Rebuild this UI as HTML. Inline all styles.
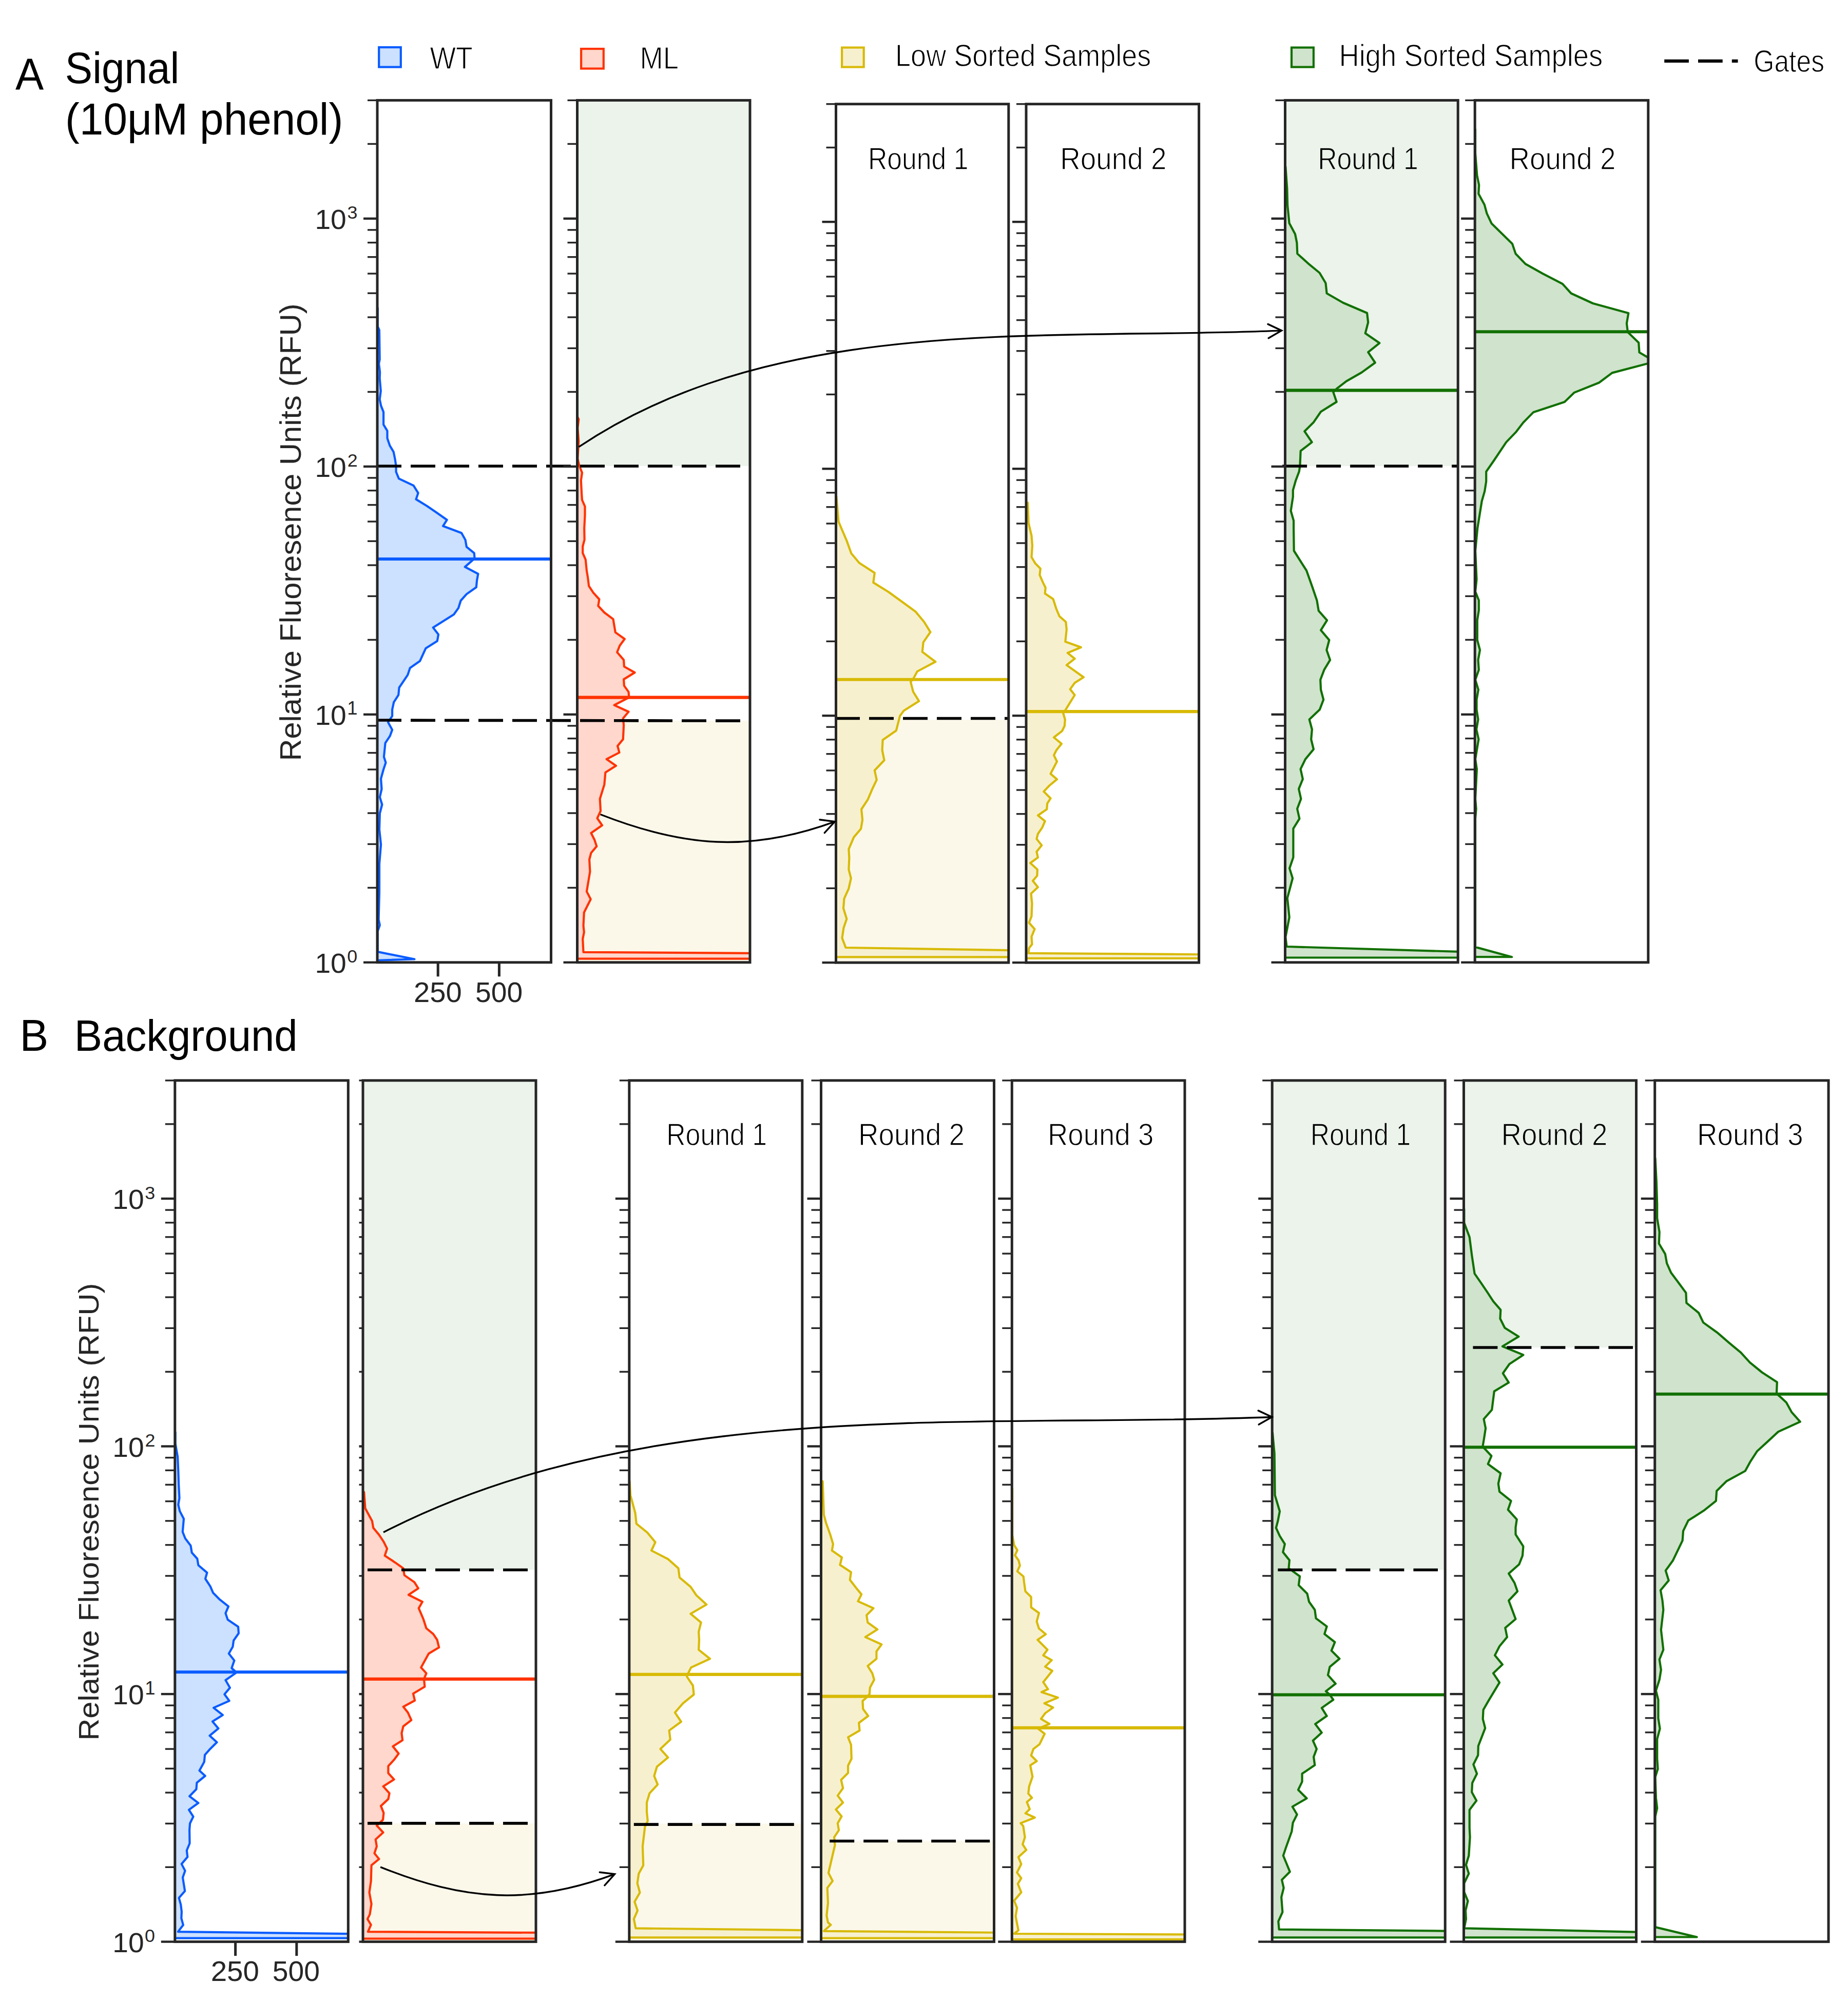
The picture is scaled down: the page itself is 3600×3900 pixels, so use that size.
<!DOCTYPE html><html><head><meta charset="utf-8"><title>Fluorescence histograms</title>
<style>html,body{margin:0;padding:0;background:#fff;}svg{display:block;}text{font-family:"Liberation Sans",sans-serif;}</style></head><body>
<svg width="3600" height="3900" viewBox="0 0 3600 3900">
<rect width="3600" height="3900" fill="#fff"/>
<defs>
<clipPath id="c_A_WT"><rect x="735" y="195.4" width="338.5" height="1679.4"/></clipPath>
<clipPath id="c_A_ML"><rect x="1124.5" y="195.4" width="336.5" height="1679.4"/></clipPath>
<clipPath id="c_A_L1"><rect x="1628.5" y="202.7" width="336.3" height="1672.5"/></clipPath>
<clipPath id="c_A_L2"><rect x="1999" y="202.7" width="336.6" height="1672.5"/></clipPath>
<clipPath id="c_A_H1"><rect x="2503.5" y="195.4" width="336.7" height="1679.4"/></clipPath>
<clipPath id="c_A_H2"><rect x="2873.2" y="195.4" width="337.6" height="1679.4"/></clipPath>
<clipPath id="c_B_WT"><rect x="340.8" y="2104.8" width="337.5" height="1677.8"/></clipPath>
<clipPath id="c_B_ML"><rect x="707" y="2104.8" width="337" height="1677.8"/></clipPath>
<clipPath id="c_B_L1"><rect x="1225.8" y="2104.8" width="337" height="1677.8"/></clipPath>
<clipPath id="c_B_L2"><rect x="1599.5" y="2104.8" width="337" height="1677.8"/></clipPath>
<clipPath id="c_B_L3"><rect x="1971.3" y="2104.8" width="336.7" height="1677.8"/></clipPath>
<clipPath id="c_B_H1"><rect x="2478.2" y="2104.8" width="337" height="1677.8"/></clipPath>
<clipPath id="c_B_H2"><rect x="2851.5" y="2104.8" width="336" height="1677.8"/></clipPath>
<clipPath id="c_B_H3"><rect x="3223.7" y="2104.8" width="338.3" height="1677.8"/></clipPath>
</defs>
<g clip-path="url(#c_A_WT)">
<polygon points="735,600 735.8,600 735.8,636 738.9,642.8 739.7,700.2 738.1,708.4 740.1,724.8 739.7,737 741.8,761.6 739.7,778 742.2,790.3 747.1,802.6 747.1,827.2 754.5,839.4 754.5,853.8 759.4,868.1 766.7,880.4 769.6,894.7 771.6,907.8 771.6,919.3 777,932.4 805.6,945.9 814.6,960.3 810.5,972.6 831.8,985.7 851.5,999.2 870.7,1012.7 863,1024.8 899,1038.3 906.6,1051.8 908.9,1065.3 923.7,1077.4 924.6,1087.8 905.7,1104.4 931.4,1117.9 929.1,1130.5 927.8,1144 908.9,1157.4 897.6,1170 893.1,1184.4 884.1,1197 843.7,1222.6 854,1236.1 851.8,1248.7 829.3,1263.1 818,1287.8 798.7,1301.3 794.2,1314.8 777.6,1339.5 776.2,1353.9 767.2,1367.8 764.1,1382.2 764.1,1394.8 756,1406.9 764.1,1421.8 759.6,1433.9 750.6,1447.4 747.9,1474.4 751.5,1485.6 747,1499.1 742.1,1517 743.5,1537.2 739.9,1552.9 744.4,1567.3 739.9,1584.4 739,1615.9 742.1,1645.1 739,1683.3 739,1737.3 737.6,1791.2 739.9,1802.4 735.8,1813.7 735.8,1854.1 807.4,1868.5 735.8,1870.8 735,1870.8" fill="#CCE0FF"/>
<polyline points="735.8,600 735.8,636 738.9,642.8 739.7,700.2 738.1,708.4 740.1,724.8 739.7,737 741.8,761.6 739.7,778 742.2,790.3 747.1,802.6 747.1,827.2 754.5,839.4 754.5,853.8 759.4,868.1 766.7,880.4 769.6,894.7 771.6,907.8 771.6,919.3 777,932.4 805.6,945.9 814.6,960.3 810.5,972.6 831.8,985.7 851.5,999.2 870.7,1012.7 863,1024.8 899,1038.3 906.6,1051.8 908.9,1065.3 923.7,1077.4 924.6,1087.8 905.7,1104.4 931.4,1117.9 929.1,1130.5 927.8,1144 908.9,1157.4 897.6,1170 893.1,1184.4 884.1,1197 843.7,1222.6 854,1236.1 851.8,1248.7 829.3,1263.1 818,1287.8 798.7,1301.3 794.2,1314.8 777.6,1339.5 776.2,1353.9 767.2,1367.8 764.1,1382.2 764.1,1394.8 756,1406.9 764.1,1421.8 759.6,1433.9 750.6,1447.4 747.9,1474.4 751.5,1485.6 747,1499.1 742.1,1517 743.5,1537.2 739.9,1552.9 744.4,1567.3 739.9,1584.4 739,1615.9 742.1,1645.1 739,1683.3 739,1737.3 737.6,1791.2 739.9,1802.4 735.8,1813.7 735.8,1854.1 807.4,1868.5 735.8,1870.8" fill="none" stroke="#0A5CFF" stroke-width="4.2" stroke-linejoin="round" stroke-linecap="round"/>
<line x1="735" y1="1089" x2="1073.5" y2="1089" stroke="#0A5CFF" stroke-width="6.1"/>
</g>
<g clip-path="url(#c_A_ML)">
<rect x="1124.5" y="195.4" width="336.5" height="712.4" fill="#EBF3EB"/>
<rect x="1124.5" y="1404" width="336.5" height="470.8" fill="#FBF8EA"/>
<polygon points="1124.5,812.6 1125.3,812.6 1127.3,816.9 1125.3,833.8 1127.3,859.3 1125.3,893.3 1128.1,906 1134,920.9 1131.8,935.7 1133.1,961.2 1134,974 1139.5,986.7 1139.5,1003.7 1138.2,1029.2 1138.6,1051.5 1135.2,1064.4 1135.2,1077.3 1140.8,1090.1 1142.9,1111.6 1145.1,1124.5 1147.2,1141.7 1155.8,1154.6 1167.4,1167.5 1165.3,1180.3 1177.3,1193.2 1194.5,1206.1 1198.8,1231.9 1216.8,1244.8 1207.3,1257.7 1202.2,1270.6 1215.1,1285.6 1215.9,1298.5 1236.5,1310.1 1215.1,1323.4 1215.9,1335.9 1224.5,1347.9 1225.4,1358.6 1196.6,1373.7 1224.5,1386.5 1213.8,1399.4 1215.1,1412.3 1213.8,1440.2 1203.1,1453.1 1206.5,1466 1181.6,1478.9 1200,1491.8 1179.4,1504.7 1177.3,1528.3 1168.7,1556.2 1170,1579.9 1163.5,1594 1173,1607.8 1151.5,1622.8 1158,1635.7 1162.3,1648.6 1151.5,1661.5 1148.1,1674.4 1149.4,1698 1142.9,1736.6 1150.7,1751.7 1137.8,1777.5 1136.5,1803.2 1137.8,1816.1 1135.2,1829 1136.5,1854.8 1529.4,1857.4 1529.4,1867.7 1125.3,1867.7 1124.5,1867.7" fill="#FFD7CD"/>
<polyline points="1125.3,812.6 1127.3,816.9 1125.3,833.8 1127.3,859.3 1125.3,893.3 1128.1,906 1134,920.9 1131.8,935.7 1133.1,961.2 1134,974 1139.5,986.7 1139.5,1003.7 1138.2,1029.2 1138.6,1051.5 1135.2,1064.4 1135.2,1077.3 1140.8,1090.1 1142.9,1111.6 1145.1,1124.5 1147.2,1141.7 1155.8,1154.6 1167.4,1167.5 1165.3,1180.3 1177.3,1193.2 1194.5,1206.1 1198.8,1231.9 1216.8,1244.8 1207.3,1257.7 1202.2,1270.6 1215.1,1285.6 1215.9,1298.5 1236.5,1310.1 1215.1,1323.4 1215.9,1335.9 1224.5,1347.9 1225.4,1358.6 1196.6,1373.7 1224.5,1386.5 1213.8,1399.4 1215.1,1412.3 1213.8,1440.2 1203.1,1453.1 1206.5,1466 1181.6,1478.9 1200,1491.8 1179.4,1504.7 1177.3,1528.3 1168.7,1556.2 1170,1579.9 1163.5,1594 1173,1607.8 1151.5,1622.8 1158,1635.7 1162.3,1648.6 1151.5,1661.5 1148.1,1674.4 1149.4,1698 1142.9,1736.6 1150.7,1751.7 1137.8,1777.5 1136.5,1803.2 1137.8,1816.1 1135.2,1829 1136.5,1854.8 1529.4,1857.4 1529.4,1867.7 1125.3,1867.7" fill="none" stroke="#FF3300" stroke-width="4.2" stroke-linejoin="round" stroke-linecap="round"/>
<line x1="1124.5" y1="1358.6" x2="1461" y2="1358.6" stroke="#FF3300" stroke-width="6.1"/>
</g>
<g clip-path="url(#c_A_L1)">
<rect x="1628.5" y="1402" width="336.3" height="473.2" fill="#FBF8EA"/>
<polygon points="1628.5,966.8 1629.3,966.8 1633.6,1016.2 1642,1036 1649.4,1053.3 1658.3,1078 1674.1,1096.8 1703.8,1116.1 1701.3,1134.9 1731,1153.2 1758.2,1173 1783.9,1191.8 1800.2,1211.5 1812.5,1231.3 1798.7,1251.1 1796.7,1269.9 1822.4,1289.2 1786.8,1308 1778.9,1322.8 1774,1328.2 1778.9,1347.5 1790.3,1365.8 1760.6,1384.6 1753.2,1394.5 1745.8,1423.2 1719.6,1441.5 1718.6,1461.3 1722.6,1481 1703.8,1500.8 1707.8,1519.1 1698.9,1537.9 1690.5,1557.7 1678.1,1576.5 1680.1,1597.3 1677.1,1614.6 1663.3,1630.9 1653.4,1654.1 1654.4,1671.4 1653.4,1693.7 1657.8,1711 1653.4,1730.8 1644.5,1750.5 1643,1769.3 1649.4,1790.1 1643.5,1807.4 1640.5,1827.2 1647.5,1846 2044.9,1852.4 2044.9,1864.3 1629.3,1864.3 1628.5,1864.3" fill="#F7F0CF"/>
<polyline points="1629.3,966.8 1633.6,1016.2 1642,1036 1649.4,1053.3 1658.3,1078 1674.1,1096.8 1703.8,1116.1 1701.3,1134.9 1731,1153.2 1758.2,1173 1783.9,1191.8 1800.2,1211.5 1812.5,1231.3 1798.7,1251.1 1796.7,1269.9 1822.4,1289.2 1786.8,1308 1778.9,1322.8 1774,1328.2 1778.9,1347.5 1790.3,1365.8 1760.6,1384.6 1753.2,1394.5 1745.8,1423.2 1719.6,1441.5 1718.6,1461.3 1722.6,1481 1703.8,1500.8 1707.8,1519.1 1698.9,1537.9 1690.5,1557.7 1678.1,1576.5 1680.1,1597.3 1677.1,1614.6 1663.3,1630.9 1653.4,1654.1 1654.4,1671.4 1653.4,1693.7 1657.8,1711 1653.4,1730.8 1644.5,1750.5 1643,1769.3 1649.4,1790.1 1643.5,1807.4 1640.5,1827.2 1647.5,1846 2044.9,1852.4 2044.9,1864.3 1629.3,1864.3" fill="none" stroke="#D8BA06" stroke-width="4.2" stroke-linejoin="round" stroke-linecap="round"/>
<line x1="1628.5" y1="1323.8" x2="1964.8" y2="1323.8" stroke="#D8BA06" stroke-width="6.1"/>
</g>
<g clip-path="url(#c_A_L2)">
<polygon points="1999,979.1 2002.1,979.1 2003.6,1018.7 2009.5,1043.4 2011,1063.2 2009.5,1085.4 2017,1097.8 2026.8,1107.7 2025.4,1120.1 2031.8,1134.9 2036.7,1144.8 2035.7,1156.2 2051.6,1167 2058,1186.8 2063.9,1200.7 2076.3,1211.5 2077.8,1226.4 2075.3,1250.1 2105.9,1261 2079.7,1271.9 2093.6,1283.2 2077.8,1295.6 2110.9,1319.3 2093.6,1330.2 2084.7,1342.6 2093.6,1354 2083.7,1369.8 2073.8,1386.1 2071.3,1389.6 2074.8,1401.9 2073.8,1414.3 2068.9,1424.2 2053,1436.5 2067.9,1448.9 2058,1461.3 2053,1471.2 2059,1483.5 2046.6,1507.3 2059,1518.1 2044.1,1530.5 2033.3,1541.9 2046.6,1555.2 2040.2,1565.1 2039.2,1576.5 2021.9,1588.4 2035.7,1599.7 2030.3,1612.1 2021.9,1624.5 2019.4,1634.3 2029.3,1646.7 2019.4,1659.1 2021.9,1670.4 2007.1,1681.3 2020.9,1693.7 2020.4,1706 2012,1715.9 2021.9,1728.3 2008.6,1740.7 2010.5,1760.4 2009.5,1785.2 2004.6,1797.5 2015.5,1809.9 2009.5,1824.7 2010.5,1839.6 2004.6,1847 2003.6,1856.9 2414.9,1859.8 2414.9,1866.8 1999.8,1866.8 1999,1866.8" fill="#F7F0CF"/>
<polyline points="2002.1,979.1 2003.6,1018.7 2009.5,1043.4 2011,1063.2 2009.5,1085.4 2017,1097.8 2026.8,1107.7 2025.4,1120.1 2031.8,1134.9 2036.7,1144.8 2035.7,1156.2 2051.6,1167 2058,1186.8 2063.9,1200.7 2076.3,1211.5 2077.8,1226.4 2075.3,1250.1 2105.9,1261 2079.7,1271.9 2093.6,1283.2 2077.8,1295.6 2110.9,1319.3 2093.6,1330.2 2084.7,1342.6 2093.6,1354 2083.7,1369.8 2073.8,1386.1 2071.3,1389.6 2074.8,1401.9 2073.8,1414.3 2068.9,1424.2 2053,1436.5 2067.9,1448.9 2058,1461.3 2053,1471.2 2059,1483.5 2046.6,1507.3 2059,1518.1 2044.1,1530.5 2033.3,1541.9 2046.6,1555.2 2040.2,1565.1 2039.2,1576.5 2021.9,1588.4 2035.7,1599.7 2030.3,1612.1 2021.9,1624.5 2019.4,1634.3 2029.3,1646.7 2019.4,1659.1 2021.9,1670.4 2007.1,1681.3 2020.9,1693.7 2020.4,1706 2012,1715.9 2021.9,1728.3 2008.6,1740.7 2010.5,1760.4 2009.5,1785.2 2004.6,1797.5 2015.5,1809.9 2009.5,1824.7 2010.5,1839.6 2004.6,1847 2003.6,1856.9 2414.9,1859.8 2414.9,1866.8 1999.8,1866.8" fill="none" stroke="#D8BA06" stroke-width="4.2" stroke-linejoin="round" stroke-linecap="round"/>
<line x1="1999" y1="1386.1" x2="2335.6" y2="1386.1" stroke="#D8BA06" stroke-width="6.1"/>
</g>
<g clip-path="url(#c_A_H1)">
<rect x="2503.5" y="195.4" width="336.7" height="712.6" fill="#EBF3EB"/>
<polygon points="2503.5,324.4 2504.3,324.4 2507.3,366.8 2508.2,400.8 2511.6,434.7 2523,456 2526.4,473 2527.3,494.2 2548.5,513.3 2570.6,531.5 2582.5,551.5 2584.6,571.5 2616.4,589.7 2663.1,609.7 2665.2,627.9 2659.7,649.2 2687.3,668.3 2665.2,686.1 2678.8,706.5 2652.5,725.6 2622.8,742.6 2603.7,757.4 2597.3,763.8 2603.7,782.9 2573.1,802 2559.1,822.4 2541.3,840.2 2555.7,861.4 2533.7,878.4 2532.4,908.1 2530.7,918.8 2524.3,935.7 2518.8,954.9 2518.8,967.6 2514.6,995.2 2520.1,1014.3 2520.1,1029.2 2520.7,1073 2545.2,1111.6 2555.9,1141.7 2565.4,1169.6 2568.8,1189.8 2585.1,1208.3 2573.1,1227.6 2589.4,1246.9 2584.3,1266.3 2591.1,1285.6 2579.5,1304.9 2572.2,1324.3 2573.1,1343.6 2578.2,1362.9 2570.9,1382.2 2550.7,1401.6 2555.9,1420.9 2554.2,1440.2 2558.9,1459.6 2543,1478.9 2533.6,1498.2 2537.9,1517.6 2530.1,1536.9 2534.4,1556.2 2527.1,1575.6 2531.4,1594.9 2519.4,1614.2 2519.4,1642.1 2519.4,1670.1 2512.1,1691.5 2518.1,1710.9 2513,1730.2 2507.8,1749.5 2511.7,1786.9 2504.3,1825.6 2506.5,1844 2899.5,1855.6 2899.5,1865.5 2504.3,1865.5 2503.5,1865.5" fill="#D0E3CD"/>
<polyline points="2504.3,324.4 2507.3,366.8 2508.2,400.8 2511.6,434.7 2523,456 2526.4,473 2527.3,494.2 2548.5,513.3 2570.6,531.5 2582.5,551.5 2584.6,571.5 2616.4,589.7 2663.1,609.7 2665.2,627.9 2659.7,649.2 2687.3,668.3 2665.2,686.1 2678.8,706.5 2652.5,725.6 2622.8,742.6 2603.7,757.4 2597.3,763.8 2603.7,782.9 2573.1,802 2559.1,822.4 2541.3,840.2 2555.7,861.4 2533.7,878.4 2532.4,908.1 2530.7,918.8 2524.3,935.7 2518.8,954.9 2518.8,967.6 2514.6,995.2 2520.1,1014.3 2520.1,1029.2 2520.7,1073 2545.2,1111.6 2555.9,1141.7 2565.4,1169.6 2568.8,1189.8 2585.1,1208.3 2573.1,1227.6 2589.4,1246.9 2584.3,1266.3 2591.1,1285.6 2579.5,1304.9 2572.2,1324.3 2573.1,1343.6 2578.2,1362.9 2570.9,1382.2 2550.7,1401.6 2555.9,1420.9 2554.2,1440.2 2558.9,1459.6 2543,1478.9 2533.6,1498.2 2537.9,1517.6 2530.1,1536.9 2534.4,1556.2 2527.1,1575.6 2531.4,1594.9 2519.4,1614.2 2519.4,1642.1 2519.4,1670.1 2512.1,1691.5 2518.1,1710.9 2513,1730.2 2507.8,1749.5 2511.7,1786.9 2504.3,1825.6 2506.5,1844 2899.5,1855.6 2899.5,1865.5 2504.3,1865.5" fill="none" stroke="#117000" stroke-width="4.2" stroke-linejoin="round" stroke-linecap="round"/>
<line x1="2503.5" y1="760.4" x2="2840.2" y2="760.4" stroke="#117000" stroke-width="6.1"/>
</g>
<g clip-path="url(#c_A_H2)">
<polygon points="2873.2,252.2 2874,252.2 2874,298.9 2877.3,341.3 2881.2,360.4 2880.3,377.4 2891.8,398.7 2896.4,415.6 2905.8,435.6 2946.1,475.1 2952.5,494.2 2971.6,514.1 3005.5,533.2 3043.7,552.8 3060.7,571.5 3103.1,591 3172.3,610.1 3168.9,630 3171,647 3192.2,667.4 3193.5,686.5 3224.1,704.4 3140.5,726.4 3115,745.5 3067,764.6 3047.9,782.9 2987.3,802.9 2967.3,823.2 2953.7,841.1 2934.2,861.4 2910,897.5 2895.2,918.8 2895.2,937.9 2892.2,957 2886.7,976.1 2881.6,1007.9 2878.2,1029.2 2874,1073 2876.5,1128.8 2874,1152.4 2880.8,1169.6 2880.8,1188.9 2877.8,1208.3 2877.8,1246.9 2883,1266.3 2879.5,1285.6 2880.8,1304.9 2874,1324.3 2879.9,1343.6 2876.5,1362.9 2876.5,1382.2 2879.5,1401.6 2876.1,1420.9 2880.4,1440.2 2874,1478.9 2876.9,1498.2 2874,1556.2 2875.6,1575.6 2874,1594.9 2874,1614.2 2874,1642.1 2874,1844.9 2945.2,1864.2 2874,1864.2 2873.2,1864.2" fill="#D0E3CD"/>
<polyline points="2874,252.2 2874,298.9 2877.3,341.3 2881.2,360.4 2880.3,377.4 2891.8,398.7 2896.4,415.6 2905.8,435.6 2946.1,475.1 2952.5,494.2 2971.6,514.1 3005.5,533.2 3043.7,552.8 3060.7,571.5 3103.1,591 3172.3,610.1 3168.9,630 3171,647 3192.2,667.4 3193.5,686.5 3224.1,704.4 3140.5,726.4 3115,745.5 3067,764.6 3047.9,782.9 2987.3,802.9 2967.3,823.2 2953.7,841.1 2934.2,861.4 2910,897.5 2895.2,918.8 2895.2,937.9 2892.2,957 2886.7,976.1 2881.6,1007.9 2878.2,1029.2 2874,1073 2876.5,1128.8 2874,1152.4 2880.8,1169.6 2880.8,1188.9 2877.8,1208.3 2877.8,1246.9 2883,1266.3 2879.5,1285.6 2880.8,1304.9 2874,1324.3 2879.9,1343.6 2876.5,1362.9 2876.5,1382.2 2879.5,1401.6 2876.1,1420.9 2880.4,1440.2 2874,1478.9 2876.9,1498.2 2874,1556.2 2875.6,1575.6 2874,1594.9 2874,1614.2 2874,1642.1 2874,1844.9 2945.2,1864.2 2874,1864.2" fill="none" stroke="#117000" stroke-width="4.2" stroke-linejoin="round" stroke-linecap="round"/>
<line x1="2873.2" y1="646.2" x2="3210.8" y2="646.2" stroke="#117000" stroke-width="6.1"/>
</g>
<g clip-path="url(#c_B_WT)">
<polygon points="340.8,2790 341.6,2790 341.6,2812 346.1,2837.8 347.3,2865.4 348.2,2893 349.5,2918.4 347.3,2931.2 350.3,2943.9 358,2958.8 355.8,2984.2 360.9,2997 371.5,3011 373.7,3024.6 384.3,3036.5 386.4,3049.2 403.4,3063.6 400,3075.5 409.7,3090.4 415.2,3103.1 428,3115.9 445,3129.4 439.4,3142.6 443.7,3155.3 464,3168.9 464.9,3181.7 455.1,3195.7 453.4,3208 445.8,3221.2 456.4,3234.7 451.3,3249.6 460.7,3258.1 439.4,3273 447.9,3287.8 437.3,3300.5 446.6,3313.3 416.1,3326.9 433.9,3340.9 414,3353.6 425.4,3367.2 408.5,3381.2 422.5,3394 409.7,3406.7 399.1,3418.6 397.8,3432.2 388.5,3449.2 399.7,3459.5 383.4,3472.8 382.4,3485.5 369.1,3499.2 386.4,3512.3 368,3525.6 376.5,3538.9 370.1,3552 369.1,3564.6 369.5,3591 363.8,3604.7 365.3,3617.4 353.7,3631.1 360.6,3644.4 356,3657.5 360.2,3683.9 348.6,3697.2 352.2,3710.3 353.9,3724 353.3,3736.7 356.9,3750 346.9,3763.1 774.3,3768.3 774.3,3775.7 341.6,3775.7 340.8,3775.7" fill="#CCE0FF"/>
<polyline points="341.6,2790 341.6,2812 346.1,2837.8 347.3,2865.4 348.2,2893 349.5,2918.4 347.3,2931.2 350.3,2943.9 358,2958.8 355.8,2984.2 360.9,2997 371.5,3011 373.7,3024.6 384.3,3036.5 386.4,3049.2 403.4,3063.6 400,3075.5 409.7,3090.4 415.2,3103.1 428,3115.9 445,3129.4 439.4,3142.6 443.7,3155.3 464,3168.9 464.9,3181.7 455.1,3195.7 453.4,3208 445.8,3221.2 456.4,3234.7 451.3,3249.6 460.7,3258.1 439.4,3273 447.9,3287.8 437.3,3300.5 446.6,3313.3 416.1,3326.9 433.9,3340.9 414,3353.6 425.4,3367.2 408.5,3381.2 422.5,3394 409.7,3406.7 399.1,3418.6 397.8,3432.2 388.5,3449.2 399.7,3459.5 383.4,3472.8 382.4,3485.5 369.1,3499.2 386.4,3512.3 368,3525.6 376.5,3538.9 370.1,3552 369.1,3564.6 369.5,3591 363.8,3604.7 365.3,3617.4 353.7,3631.1 360.6,3644.4 356,3657.5 360.2,3683.9 348.6,3697.2 352.2,3710.3 353.9,3724 353.3,3736.7 356.9,3750 346.9,3763.1 774.3,3768.3 774.3,3775.7 341.6,3775.7" fill="none" stroke="#0A5CFF" stroke-width="4.2" stroke-linejoin="round" stroke-linecap="round"/>
<line x1="340.8" y1="3257.2" x2="678.3" y2="3257.2" stroke="#0A5CFF" stroke-width="6.1"/>
</g>
<g clip-path="url(#c_B_ML)">
<rect x="707" y="2104.8" width="337" height="953.2" fill="#EBF3EB"/>
<rect x="707" y="3552" width="337" height="230.6" fill="#FBF8EA"/>
<polygon points="707,2906.7 709.2,2906.7 711.5,2938.2 724.9,2962.9 727.2,2976.4 738.4,2989.9 747.4,3003.4 754.1,3016.9 749.6,3030.4 769.9,3043.9 785.6,3055.1 787.8,3068.6 807.2,3082.1 814.8,3094.2 795.9,3106.8 822.9,3120.3 815.7,3132.9 824.7,3154 830.5,3172 844,3183.2 851.6,3194.5 855.2,3209.3 835,3221.4 820.2,3248.4 830.5,3259.6 826,3270.9 827.4,3285.7 804.9,3299.2 808.1,3312.7 785.6,3324.8 794.6,3336.1 801.3,3350.9 785.6,3363 782.4,3376.5 784.2,3390 765.4,3402.1 776.6,3416.1 767.6,3428.2 756.4,3440.4 756.4,3454.3 767.6,3466.4 746.5,3479.9 758.6,3493.4 756.4,3504.6 742,3518.1 747.4,3531.6 746,3545.1 733.9,3556.3 746.5,3569.8 731.7,3583.3 733.9,3596.8 729.4,3610.3 738.4,3621.5 723.6,3633.7 722.7,3664.2 719.5,3686.7 723.6,3709.2 720.4,3729.4 715.9,3738.4 722.7,3749.7 716.8,3763.1 1129.3,3765.4 1129.3,3776.6 707.8,3776.6 707,3776.6" fill="#FFD7CD"/>
<polyline points="709.2,2906.7 711.5,2938.2 724.9,2962.9 727.2,2976.4 738.4,2989.9 747.4,3003.4 754.1,3016.9 749.6,3030.4 769.9,3043.9 785.6,3055.1 787.8,3068.6 807.2,3082.1 814.8,3094.2 795.9,3106.8 822.9,3120.3 815.7,3132.9 824.7,3154 830.5,3172 844,3183.2 851.6,3194.5 855.2,3209.3 835,3221.4 820.2,3248.4 830.5,3259.6 826,3270.9 827.4,3285.7 804.9,3299.2 808.1,3312.7 785.6,3324.8 794.6,3336.1 801.3,3350.9 785.6,3363 782.4,3376.5 784.2,3390 765.4,3402.1 776.6,3416.1 767.6,3428.2 756.4,3440.4 756.4,3454.3 767.6,3466.4 746.5,3479.9 758.6,3493.4 756.4,3504.6 742,3518.1 747.4,3531.6 746,3545.1 733.9,3556.3 746.5,3569.8 731.7,3583.3 733.9,3596.8 729.4,3610.3 738.4,3621.5 723.6,3633.7 722.7,3664.2 719.5,3686.7 723.6,3709.2 720.4,3729.4 715.9,3738.4 722.7,3749.7 716.8,3763.1 1129.3,3765.4 1129.3,3776.6 707.8,3776.6" fill="none" stroke="#FF3300" stroke-width="4.2" stroke-linejoin="round" stroke-linecap="round"/>
<line x1="707" y1="3270.9" x2="1044" y2="3270.9" stroke="#FF3300" stroke-width="6.1"/>
</g>
<g clip-path="url(#c_B_L1)">
<rect x="1225.8" y="3552.5" width="337" height="230.1" fill="#FBF8EA"/>
<polygon points="1225.8,2885.7 1226.6,2885.7 1228.1,2912.7 1237.5,2947.2 1239.8,2968.3 1260.9,2985.4 1276.6,3004.3 1269,3020.5 1301.3,3037.1 1321.5,3055.1 1323.8,3073.1 1345.3,3091.1 1356.6,3107.7 1376.3,3125.7 1345.3,3143.7 1365.6,3160.7 1361.1,3178.7 1362,3194.5 1361.1,3213.8 1383.1,3231.3 1346.2,3248.4 1339.5,3261.9 1338.2,3266.4 1349.8,3283.5 1351.6,3301 1330.5,3318.1 1314.8,3336.1 1326.9,3354 1303.6,3371.1 1305.8,3388.7 1286.5,3407.1 1301.3,3423.7 1279.7,3441.7 1274.4,3459.7 1281.1,3476.3 1265.4,3493.4 1260,3511.4 1260,3529.4 1261.8,3547.4 1256.4,3558.6 1251.9,3596.8 1253.2,3633.7 1244.3,3649.9 1241.6,3668.7 1246.5,3686.7 1236.2,3704.7 1242,3721.8 1234.8,3738.4 1238.4,3756.4 1629.3,3760.9 1629.3,3774.4 1226.6,3774.4 1225.8,3774.4" fill="#F7F0CF"/>
<polyline points="1226.6,2885.7 1228.1,2912.7 1237.5,2947.2 1239.8,2968.3 1260.9,2985.4 1276.6,3004.3 1269,3020.5 1301.3,3037.1 1321.5,3055.1 1323.8,3073.1 1345.3,3091.1 1356.6,3107.7 1376.3,3125.7 1345.3,3143.7 1365.6,3160.7 1361.1,3178.7 1362,3194.5 1361.1,3213.8 1383.1,3231.3 1346.2,3248.4 1339.5,3261.9 1338.2,3266.4 1349.8,3283.5 1351.6,3301 1330.5,3318.1 1314.8,3336.1 1326.9,3354 1303.6,3371.1 1305.8,3388.7 1286.5,3407.1 1301.3,3423.7 1279.7,3441.7 1274.4,3459.7 1281.1,3476.3 1265.4,3493.4 1260,3511.4 1260,3529.4 1261.8,3547.4 1256.4,3558.6 1251.9,3596.8 1253.2,3633.7 1244.3,3649.9 1241.6,3668.7 1246.5,3686.7 1236.2,3704.7 1242,3721.8 1234.8,3738.4 1238.4,3756.4 1629.3,3760.9 1629.3,3774.4 1226.6,3774.4" fill="none" stroke="#D8BA06" stroke-width="4.2" stroke-linejoin="round" stroke-linecap="round"/>
<line x1="1225.8" y1="3261.9" x2="1562.8" y2="3261.9" stroke="#D8BA06" stroke-width="6.1"/>
</g>
<g clip-path="url(#c_B_L2)">
<rect x="1599.5" y="3586.5" width="337" height="196.1" fill="#FBF8EA"/>
<polygon points="1599.5,2885.7 1602.7,2885.7 1604,2926.2 1604.9,2950.9 1609.4,2967.4 1617.5,2989.9 1622.9,3007.9 1620.7,3020.5 1640,3034 1636.4,3048.4 1657.9,3062.7 1655.7,3077.6 1667.8,3093.3 1678.2,3105.9 1671.4,3119.4 1701.5,3132.9 1688.1,3146.4 1690.3,3160.7 1709.2,3174.2 1685.8,3189.1 1717.3,3203.4 1707.4,3216.9 1707.4,3231.3 1690.3,3245.3 1699.3,3259.6 1702.9,3272.2 1694.8,3287.5 1693.9,3300.1 1688.1,3306.8 1680.4,3313.6 1681.3,3329.3 1691.2,3342.8 1673.2,3356.3 1674.6,3371.1 1652.1,3384.2 1657.9,3399 1658.8,3426 1652.1,3439.5 1652.1,3453.8 1638.6,3467.3 1642.2,3483.5 1631.9,3497.9 1642.2,3511.4 1628.3,3524.9 1639.5,3538.4 1631.9,3551.8 1634.1,3565.3 1625.1,3578.8 1626.5,3594.6 1620.7,3619.3 1613.9,3648.5 1622,3664.2 1611.7,3677.7 1613,3706.9 1610.3,3731.7 1613,3745.2 1618.4,3749.7 1604.9,3761.8 2009.3,3765.4 2009.3,3775.7 1600.3,3775.7 1599.5,3775.7" fill="#F7F0CF"/>
<polyline points="1602.7,2885.7 1604,2926.2 1604.9,2950.9 1609.4,2967.4 1617.5,2989.9 1622.9,3007.9 1620.7,3020.5 1640,3034 1636.4,3048.4 1657.9,3062.7 1655.7,3077.6 1667.8,3093.3 1678.2,3105.9 1671.4,3119.4 1701.5,3132.9 1688.1,3146.4 1690.3,3160.7 1709.2,3174.2 1685.8,3189.1 1717.3,3203.4 1707.4,3216.9 1707.4,3231.3 1690.3,3245.3 1699.3,3259.6 1702.9,3272.2 1694.8,3287.5 1693.9,3300.1 1688.1,3306.8 1680.4,3313.6 1681.3,3329.3 1691.2,3342.8 1673.2,3356.3 1674.6,3371.1 1652.1,3384.2 1657.9,3399 1658.8,3426 1652.1,3439.5 1652.1,3453.8 1638.6,3467.3 1642.2,3483.5 1631.9,3497.9 1642.2,3511.4 1628.3,3524.9 1639.5,3538.4 1631.9,3551.8 1634.1,3565.3 1625.1,3578.8 1626.5,3594.6 1620.7,3619.3 1613.9,3648.5 1622,3664.2 1611.7,3677.7 1613,3706.9 1610.3,3731.7 1613,3745.2 1618.4,3749.7 1604.9,3761.8 2009.3,3765.4 2009.3,3775.7 1600.3,3775.7" fill="none" stroke="#D8BA06" stroke-width="4.2" stroke-linejoin="round" stroke-linecap="round"/>
<line x1="1599.5" y1="3304.6" x2="1936.5" y2="3304.6" stroke="#D8BA06" stroke-width="6.1"/>
</g>
<g clip-path="url(#c_B_L3)">
<polygon points="1971.3,2900 1972.1,2900 1972.1,2990 1975.6,3009.8 1981.8,3019.8 1977.2,3029.8 1984.3,3039.8 1986.8,3049.8 1981.8,3061 1993.7,3071 1995,3082.3 1997.5,3100 2008.7,3111 2008.7,3131.3 2024,3142.3 2019.6,3158.8 2024,3172.5 2037.2,3183.5 2021.3,3194.5 2040.5,3213.7 2032.3,3224.7 2048.8,3234.1 2036.1,3246.7 2049.9,3254.9 2032.3,3276.9 2041.6,3290.7 2029,3296.2 2060.8,3307.1 2034.5,3318.1 2051.5,3326.4 2036.1,3337.4 2027.9,3348.4 2044.4,3358.2 2022.4,3367.6 2035,3377.5 2025.1,3397.8 2013.1,3407.1 2008.7,3419.8 2019.6,3430.8 2007,3439 2011.4,3461 2004.8,3480.2 2003.2,3494 2010.3,3502.2 2000.4,3510.4 2005.9,3524.2 1997.7,3532.4 2015.8,3540.7 1988.3,3551.6 1993.3,3557.1 1996.6,3579.1 1992.2,3592.9 1999.3,3603.8 1983.9,3617.6 1989.4,3631.3 1981.2,3647.8 1989.4,3658.8 1982.8,3669.8 1989.4,3686.3 1975.7,3702.7 1981.2,3716.5 1978.5,3733 1983.9,3760.4 1975.7,3767 2379.4,3768.7 2379.4,3778 1972.1,3778 1971.3,3778" fill="#F7F0CF"/>
<polyline points="1972.1,2900 1972.1,2990 1975.6,3009.8 1981.8,3019.8 1977.2,3029.8 1984.3,3039.8 1986.8,3049.8 1981.8,3061 1993.7,3071 1995,3082.3 1997.5,3100 2008.7,3111 2008.7,3131.3 2024,3142.3 2019.6,3158.8 2024,3172.5 2037.2,3183.5 2021.3,3194.5 2040.5,3213.7 2032.3,3224.7 2048.8,3234.1 2036.1,3246.7 2049.9,3254.9 2032.3,3276.9 2041.6,3290.7 2029,3296.2 2060.8,3307.1 2034.5,3318.1 2051.5,3326.4 2036.1,3337.4 2027.9,3348.4 2044.4,3358.2 2022.4,3367.6 2035,3377.5 2025.1,3397.8 2013.1,3407.1 2008.7,3419.8 2019.6,3430.8 2007,3439 2011.4,3461 2004.8,3480.2 2003.2,3494 2010.3,3502.2 2000.4,3510.4 2005.9,3524.2 1997.7,3532.4 2015.8,3540.7 1988.3,3551.6 1993.3,3557.1 1996.6,3579.1 1992.2,3592.9 1999.3,3603.8 1983.9,3617.6 1989.4,3631.3 1981.2,3647.8 1989.4,3658.8 1982.8,3669.8 1989.4,3686.3 1975.7,3702.7 1981.2,3716.5 1978.5,3733 1983.9,3760.4 1975.7,3767 2379.4,3768.7 2379.4,3778 1972.1,3778" fill="none" stroke="#D8BA06" stroke-width="4.2" stroke-linejoin="round" stroke-linecap="round"/>
<line x1="1971.3" y1="3365.9" x2="2308" y2="3365.9" stroke="#D8BA06" stroke-width="6.1"/>
</g>
<g clip-path="url(#c_B_H1)">
<rect x="2478.2" y="2104.8" width="337" height="953.2" fill="#EBF3EB"/>
<polygon points="2478.2,2791.3 2479,2791.3 2482.7,2831.8 2483.6,2912.7 2493,2944.1 2489.4,2962.9 2485.8,2976.4 2493,2992.2 2502.9,3007.9 2499.3,3023.6 2511.9,3039.4 2510.5,3055.1 2532.1,3070.8 2529.9,3087.9 2546.5,3104.5 2550.1,3120.3 2561.3,3136 2563.6,3152.6 2584.7,3168.4 2580.2,3183.2 2600.4,3199 2593.7,3215.6 2609.4,3231.3 2590.5,3247.1 2586.9,3263.2 2601.8,3279.9 2582.9,3294.7 2590.5,3301.4 2597.3,3311.3 2574.8,3327.1 2584.7,3342.8 2562.2,3358.5 2574.8,3375.2 2557.7,3390.9 2564.9,3407.1 2559.1,3422.4 2561.3,3438.6 2536.6,3455.2 2536.6,3470.9 2529,3486.7 2545.6,3503.3 2517.7,3519.5 2526.7,3534.8 2518.6,3550.9 2516.4,3567.6 2505.1,3599.1 2499.8,3614.8 2512.8,3646.3 2497.1,3662 2500.7,3677.7 2496.2,3695.7 2498.4,3724.9 2490.3,3742.9 2491.7,3758.6 2889.3,3762.2 2889.3,3774.4 2479,3774.4 2478.2,3774.4" fill="#D0E3CD"/>
<polyline points="2479,2791.3 2482.7,2831.8 2483.6,2912.7 2493,2944.1 2489.4,2962.9 2485.8,2976.4 2493,2992.2 2502.9,3007.9 2499.3,3023.6 2511.9,3039.4 2510.5,3055.1 2532.1,3070.8 2529.9,3087.9 2546.5,3104.5 2550.1,3120.3 2561.3,3136 2563.6,3152.6 2584.7,3168.4 2580.2,3183.2 2600.4,3199 2593.7,3215.6 2609.4,3231.3 2590.5,3247.1 2586.9,3263.2 2601.8,3279.9 2582.9,3294.7 2590.5,3301.4 2597.3,3311.3 2574.8,3327.1 2584.7,3342.8 2562.2,3358.5 2574.8,3375.2 2557.7,3390.9 2564.9,3407.1 2559.1,3422.4 2561.3,3438.6 2536.6,3455.2 2536.6,3470.9 2529,3486.7 2545.6,3503.3 2517.7,3519.5 2526.7,3534.8 2518.6,3550.9 2516.4,3567.6 2505.1,3599.1 2499.8,3614.8 2512.8,3646.3 2497.1,3662 2500.7,3677.7 2496.2,3695.7 2498.4,3724.9 2490.3,3742.9 2491.7,3758.6 2889.3,3762.2 2889.3,3774.4 2479,3774.4" fill="none" stroke="#117000" stroke-width="4.2" stroke-linejoin="round" stroke-linecap="round"/>
<line x1="2478.2" y1="3301.5" x2="2815.2" y2="3301.5" stroke="#117000" stroke-width="6.1"/>
</g>
<g clip-path="url(#c_B_H2)">
<rect x="2851.5" y="2104.8" width="336" height="520.2" fill="#EBF3EB"/>
<polygon points="2851.5,2355.2 2852.3,2355.2 2852.3,2382.2 2862.7,2410.1 2867.2,2445.1 2872.6,2481.1 2885.1,2499.1 2897.3,2517.1 2909,2535.1 2923.3,2551.7 2922.4,2568.8 2931.4,2586.8 2958.4,2603.8 2926.9,2622.7 2967.4,2639.4 2940.4,2657.3 2927.8,2675.3 2939.1,2693.3 2910.8,2710.4 2906.3,2746.3 2890.5,2764.3 2894.1,2782.3 2891,2802.5 2888.3,2818.3 2892.8,2822.8 2905.4,2836.3 2898.6,2852 2923.3,2870 2918.8,2890.2 2921.1,2905.9 2943.6,2923.9 2937.7,2941 2954.8,2959.9 2952.5,2975.6 2952.5,2989.1 2967.4,3012.4 2966,3030.4 2959.3,3047.5 2939.1,3065.4 2950.3,3083.4 2956.1,3100 2939.1,3118 2952.5,3154 2932.3,3171.1 2935.9,3189.1 2921.1,3207 2912.1,3224.6 2926.9,3242.6 2909,3259.6 2921.1,3277.6 2900,3312.7 2889.6,3330.7 2888.7,3348.7 2893.2,3366.6 2879.8,3401.2 2879.3,3419.2 2870.3,3437.2 2877.1,3455.2 2868.1,3473.2 2867.2,3491.2 2876.2,3507.8 2862.7,3525.8 2862.7,3560.8 2863.6,3578.8 2861.3,3614.8 2855.9,3632.8 2861.3,3649.9 2852.3,3668.7 2852.3,3685.8 2859.5,3703.3 2855,3721.8 2855.9,3738.4 2852.3,3756.4 3269.3,3765.4 3269.3,3774.4 2852.3,3774.4 2851.5,3774.4" fill="#D0E3CD"/>
<polyline points="2852.3,2355.2 2852.3,2382.2 2862.7,2410.1 2867.2,2445.1 2872.6,2481.1 2885.1,2499.1 2897.3,2517.1 2909,2535.1 2923.3,2551.7 2922.4,2568.8 2931.4,2586.8 2958.4,2603.8 2926.9,2622.7 2967.4,2639.4 2940.4,2657.3 2927.8,2675.3 2939.1,2693.3 2910.8,2710.4 2906.3,2746.3 2890.5,2764.3 2894.1,2782.3 2891,2802.5 2888.3,2818.3 2892.8,2822.8 2905.4,2836.3 2898.6,2852 2923.3,2870 2918.8,2890.2 2921.1,2905.9 2943.6,2923.9 2937.7,2941 2954.8,2959.9 2952.5,2975.6 2952.5,2989.1 2967.4,3012.4 2966,3030.4 2959.3,3047.5 2939.1,3065.4 2950.3,3083.4 2956.1,3100 2939.1,3118 2952.5,3154 2932.3,3171.1 2935.9,3189.1 2921.1,3207 2912.1,3224.6 2926.9,3242.6 2909,3259.6 2921.1,3277.6 2900,3312.7 2889.6,3330.7 2888.7,3348.7 2893.2,3366.6 2879.8,3401.2 2879.3,3419.2 2870.3,3437.2 2877.1,3455.2 2868.1,3473.2 2867.2,3491.2 2876.2,3507.8 2862.7,3525.8 2862.7,3560.8 2863.6,3578.8 2861.3,3614.8 2855.9,3632.8 2861.3,3649.9 2852.3,3668.7 2852.3,3685.8 2859.5,3703.3 2855,3721.8 2855.9,3738.4 2852.3,3756.4 3269.3,3765.4 3269.3,3774.4 2852.3,3774.4" fill="none" stroke="#117000" stroke-width="4.2" stroke-linejoin="round" stroke-linecap="round"/>
<line x1="2851.5" y1="2819.2" x2="3187.5" y2="2819.2" stroke="#117000" stroke-width="6.1"/>
</g>
<g clip-path="url(#c_B_H3)">
<polygon points="3223.7,2256.3 3224.5,2256.3 3226.8,2301.3 3228.2,2346.2 3228.2,2373.2 3232.7,2400.2 3231.8,2422.7 3243.9,2442.9 3247.1,2460.9 3255.1,2478.9 3270,2499.1 3284.4,2518.4 3285.3,2538.2 3309.1,2557.5 3318.1,2576.4 3345,2595.7 3367.5,2615.1 3391.3,2634.9 3408.8,2654.2 3432.6,2673.5 3461.8,2692.4 3460.9,2714.9 3468.6,2721.6 3479.8,2732 3490.1,2750.8 3506.8,2769.7 3464.1,2789.1 3443.9,2807.9 3422.7,2827.3 3410.2,2846.6 3399.8,2865.5 3363,2885.7 3344.1,2904.6 3342.8,2923.9 3319,2942.8 3288.8,2962.1 3279,2982.4 3277.6,3001.1 3258.7,3040.3 3244.8,3059.6 3250.7,3078.9 3234.9,3097.8 3238.5,3118 3240.3,3136 3235.8,3175.1 3240.3,3213.8 3232.7,3232.7 3235.8,3252.9 3232.7,3272.2 3225.9,3293.4 3230.4,3311.3 3230.4,3347.3 3233.6,3367.5 3228.2,3387.8 3228.2,3426 3229.5,3446.2 3224.5,3461.9 3225.9,3502.4 3228.2,3522.6 3224.5,3538.4 3224.5,3754.1 3305.5,3773.5 3224.5,3773.5 3223.7,3773.5" fill="#D0E3CD"/>
<polyline points="3224.5,2256.3 3226.8,2301.3 3228.2,2346.2 3228.2,2373.2 3232.7,2400.2 3231.8,2422.7 3243.9,2442.9 3247.1,2460.9 3255.1,2478.9 3270,2499.1 3284.4,2518.4 3285.3,2538.2 3309.1,2557.5 3318.1,2576.4 3345,2595.7 3367.5,2615.1 3391.3,2634.9 3408.8,2654.2 3432.6,2673.5 3461.8,2692.4 3460.9,2714.9 3468.6,2721.6 3479.8,2732 3490.1,2750.8 3506.8,2769.7 3464.1,2789.1 3443.9,2807.9 3422.7,2827.3 3410.2,2846.6 3399.8,2865.5 3363,2885.7 3344.1,2904.6 3342.8,2923.9 3319,2942.8 3288.8,2962.1 3279,2982.4 3277.6,3001.1 3258.7,3040.3 3244.8,3059.6 3250.7,3078.9 3234.9,3097.8 3238.5,3118 3240.3,3136 3235.8,3175.1 3240.3,3213.8 3232.7,3232.7 3235.8,3252.9 3232.7,3272.2 3225.9,3293.4 3230.4,3311.3 3230.4,3347.3 3233.6,3367.5 3228.2,3387.8 3228.2,3426 3229.5,3446.2 3224.5,3461.9 3225.9,3502.4 3228.2,3522.6 3224.5,3538.4 3224.5,3754.1 3305.5,3773.5 3224.5,3773.5" fill="none" stroke="#117000" stroke-width="4.2" stroke-linejoin="round" stroke-linecap="round"/>
<line x1="3223.7" y1="2715.8" x2="3562" y2="2715.8" stroke="#117000" stroke-width="6.1"/>
</g>
<line x1="734" y1="908" x2="1462" y2="908" stroke="#000" stroke-width="5.6" stroke-dasharray="48 18"/>
<line x1="734" y1="1403" x2="1462" y2="1404.2" stroke="#000" stroke-width="5.6" stroke-dasharray="48 18"/>
<line x1="1627" y1="1399.5" x2="1964" y2="1399.5" stroke="#000" stroke-width="5.6" stroke-dasharray="48 18"/>
<line x1="2498.1" y1="908" x2="2842" y2="908" stroke="#000" stroke-width="5.6" stroke-dasharray="48 18"/>
<line x1="716" y1="3058.2" x2="1030" y2="3058.2" stroke="#000" stroke-width="5.6" stroke-dasharray="48 18"/>
<line x1="716" y1="3551.9" x2="1030" y2="3551.9" stroke="#000" stroke-width="5.6" stroke-dasharray="48 18"/>
<line x1="1234.8" y1="3554.1" x2="1550" y2="3554.1" stroke="#000" stroke-width="5.6" stroke-dasharray="48 18"/>
<line x1="1616.2" y1="3586.5" x2="1930" y2="3586.5" stroke="#000" stroke-width="5.6" stroke-dasharray="48 18"/>
<line x1="2489.4" y1="3058.2" x2="2801" y2="3058.2" stroke="#000" stroke-width="5.6" stroke-dasharray="48 18"/>
<line x1="2869.4" y1="2625" x2="3181" y2="2625" stroke="#000" stroke-width="5.6" stroke-dasharray="48 18"/>
<rect x="735" y="195.4" width="338.5" height="1679.4" fill="none" stroke="#262626" stroke-width="5" stroke-linejoin="miter"/>
<line x1="708" y1="1874.8" x2="735" y2="1874.8" stroke="#262626" stroke-width="4.4"/>
<line x1="716" y1="1729.4" x2="735" y2="1729.4" stroke="#262626" stroke-width="3.4"/>
<line x1="716" y1="1644.4" x2="735" y2="1644.4" stroke="#262626" stroke-width="3.4"/>
<line x1="716" y1="1584" x2="735" y2="1584" stroke="#262626" stroke-width="3.4"/>
<line x1="716" y1="1537.2" x2="735" y2="1537.2" stroke="#262626" stroke-width="3.4"/>
<line x1="716" y1="1499" x2="735" y2="1499" stroke="#262626" stroke-width="3.4"/>
<line x1="716" y1="1466.6" x2="735" y2="1466.6" stroke="#262626" stroke-width="3.4"/>
<line x1="716" y1="1438.6" x2="735" y2="1438.6" stroke="#262626" stroke-width="3.4"/>
<line x1="716" y1="1413.9" x2="735" y2="1413.9" stroke="#262626" stroke-width="3.4"/>
<line x1="708" y1="1391.8" x2="735" y2="1391.8" stroke="#262626" stroke-width="4.4"/>
<line x1="716" y1="1246.4" x2="735" y2="1246.4" stroke="#262626" stroke-width="3.4"/>
<line x1="716" y1="1161.4" x2="735" y2="1161.4" stroke="#262626" stroke-width="3.4"/>
<line x1="716" y1="1101" x2="735" y2="1101" stroke="#262626" stroke-width="3.4"/>
<line x1="716" y1="1054.2" x2="735" y2="1054.2" stroke="#262626" stroke-width="3.4"/>
<line x1="716" y1="1016" x2="735" y2="1016" stroke="#262626" stroke-width="3.4"/>
<line x1="716" y1="983.6" x2="735" y2="983.6" stroke="#262626" stroke-width="3.4"/>
<line x1="716" y1="955.6" x2="735" y2="955.6" stroke="#262626" stroke-width="3.4"/>
<line x1="716" y1="930.9" x2="735" y2="930.9" stroke="#262626" stroke-width="3.4"/>
<line x1="708" y1="908.8" x2="735" y2="908.8" stroke="#262626" stroke-width="4.4"/>
<line x1="716" y1="763.4" x2="735" y2="763.4" stroke="#262626" stroke-width="3.4"/>
<line x1="716" y1="678.4" x2="735" y2="678.4" stroke="#262626" stroke-width="3.4"/>
<line x1="716" y1="618" x2="735" y2="618" stroke="#262626" stroke-width="3.4"/>
<line x1="716" y1="571.2" x2="735" y2="571.2" stroke="#262626" stroke-width="3.4"/>
<line x1="716" y1="533" x2="735" y2="533" stroke="#262626" stroke-width="3.4"/>
<line x1="716" y1="500.7" x2="735" y2="500.7" stroke="#262626" stroke-width="3.4"/>
<line x1="716" y1="472.6" x2="735" y2="472.6" stroke="#262626" stroke-width="3.4"/>
<line x1="716" y1="447.9" x2="735" y2="447.9" stroke="#262626" stroke-width="3.4"/>
<line x1="708" y1="425.8" x2="735" y2="425.8" stroke="#262626" stroke-width="4.4"/>
<line x1="716" y1="280.4" x2="735" y2="280.4" stroke="#262626" stroke-width="3.4"/>
<line x1="716" y1="195.4" x2="735" y2="195.4" stroke="#262626" stroke-width="3.4"/>
<rect x="1124.5" y="195.4" width="336.5" height="1679.4" fill="none" stroke="#262626" stroke-width="5" stroke-linejoin="miter"/>
<line x1="1097.5" y1="1874.8" x2="1124.5" y2="1874.8" stroke="#262626" stroke-width="4.4"/>
<line x1="1105.5" y1="1729.4" x2="1124.5" y2="1729.4" stroke="#262626" stroke-width="3.4"/>
<line x1="1105.5" y1="1644.4" x2="1124.5" y2="1644.4" stroke="#262626" stroke-width="3.4"/>
<line x1="1105.5" y1="1584" x2="1124.5" y2="1584" stroke="#262626" stroke-width="3.4"/>
<line x1="1105.5" y1="1537.2" x2="1124.5" y2="1537.2" stroke="#262626" stroke-width="3.4"/>
<line x1="1105.5" y1="1499" x2="1124.5" y2="1499" stroke="#262626" stroke-width="3.4"/>
<line x1="1105.5" y1="1466.6" x2="1124.5" y2="1466.6" stroke="#262626" stroke-width="3.4"/>
<line x1="1105.5" y1="1438.6" x2="1124.5" y2="1438.6" stroke="#262626" stroke-width="3.4"/>
<line x1="1105.5" y1="1413.9" x2="1124.5" y2="1413.9" stroke="#262626" stroke-width="3.4"/>
<line x1="1097.5" y1="1391.8" x2="1124.5" y2="1391.8" stroke="#262626" stroke-width="4.4"/>
<line x1="1105.5" y1="1246.4" x2="1124.5" y2="1246.4" stroke="#262626" stroke-width="3.4"/>
<line x1="1105.5" y1="1161.4" x2="1124.5" y2="1161.4" stroke="#262626" stroke-width="3.4"/>
<line x1="1105.5" y1="1101" x2="1124.5" y2="1101" stroke="#262626" stroke-width="3.4"/>
<line x1="1105.5" y1="1054.2" x2="1124.5" y2="1054.2" stroke="#262626" stroke-width="3.4"/>
<line x1="1105.5" y1="1016" x2="1124.5" y2="1016" stroke="#262626" stroke-width="3.4"/>
<line x1="1105.5" y1="983.6" x2="1124.5" y2="983.6" stroke="#262626" stroke-width="3.4"/>
<line x1="1105.5" y1="955.6" x2="1124.5" y2="955.6" stroke="#262626" stroke-width="3.4"/>
<line x1="1105.5" y1="930.9" x2="1124.5" y2="930.9" stroke="#262626" stroke-width="3.4"/>
<line x1="1097.5" y1="908.8" x2="1124.5" y2="908.8" stroke="#262626" stroke-width="4.4"/>
<line x1="1105.5" y1="763.4" x2="1124.5" y2="763.4" stroke="#262626" stroke-width="3.4"/>
<line x1="1105.5" y1="678.4" x2="1124.5" y2="678.4" stroke="#262626" stroke-width="3.4"/>
<line x1="1105.5" y1="618" x2="1124.5" y2="618" stroke="#262626" stroke-width="3.4"/>
<line x1="1105.5" y1="571.2" x2="1124.5" y2="571.2" stroke="#262626" stroke-width="3.4"/>
<line x1="1105.5" y1="533" x2="1124.5" y2="533" stroke="#262626" stroke-width="3.4"/>
<line x1="1105.5" y1="500.7" x2="1124.5" y2="500.7" stroke="#262626" stroke-width="3.4"/>
<line x1="1105.5" y1="472.6" x2="1124.5" y2="472.6" stroke="#262626" stroke-width="3.4"/>
<line x1="1105.5" y1="447.9" x2="1124.5" y2="447.9" stroke="#262626" stroke-width="3.4"/>
<line x1="1097.5" y1="425.8" x2="1124.5" y2="425.8" stroke="#262626" stroke-width="4.4"/>
<line x1="1105.5" y1="280.4" x2="1124.5" y2="280.4" stroke="#262626" stroke-width="3.4"/>
<line x1="1105.5" y1="195.4" x2="1124.5" y2="195.4" stroke="#262626" stroke-width="3.4"/>
<rect x="1628.5" y="202.7" width="336.3" height="1672.5" fill="none" stroke="#262626" stroke-width="5" stroke-linejoin="miter"/>
<line x1="1601.5" y1="1875.2" x2="1628.5" y2="1875.2" stroke="#262626" stroke-width="4.4"/>
<line x1="1609.5" y1="1730.4" x2="1628.5" y2="1730.4" stroke="#262626" stroke-width="3.4"/>
<line x1="1609.5" y1="1645.7" x2="1628.5" y2="1645.7" stroke="#262626" stroke-width="3.4"/>
<line x1="1609.5" y1="1585.6" x2="1628.5" y2="1585.6" stroke="#262626" stroke-width="3.4"/>
<line x1="1609.5" y1="1539" x2="1628.5" y2="1539" stroke="#262626" stroke-width="3.4"/>
<line x1="1609.5" y1="1500.9" x2="1628.5" y2="1500.9" stroke="#262626" stroke-width="3.4"/>
<line x1="1609.5" y1="1468.7" x2="1628.5" y2="1468.7" stroke="#262626" stroke-width="3.4"/>
<line x1="1609.5" y1="1440.8" x2="1628.5" y2="1440.8" stroke="#262626" stroke-width="3.4"/>
<line x1="1609.5" y1="1416.2" x2="1628.5" y2="1416.2" stroke="#262626" stroke-width="3.4"/>
<line x1="1601.5" y1="1394.2" x2="1628.5" y2="1394.2" stroke="#262626" stroke-width="4.4"/>
<line x1="1609.5" y1="1249.4" x2="1628.5" y2="1249.4" stroke="#262626" stroke-width="3.4"/>
<line x1="1609.5" y1="1164.7" x2="1628.5" y2="1164.7" stroke="#262626" stroke-width="3.4"/>
<line x1="1609.5" y1="1104.6" x2="1628.5" y2="1104.6" stroke="#262626" stroke-width="3.4"/>
<line x1="1609.5" y1="1058" x2="1628.5" y2="1058" stroke="#262626" stroke-width="3.4"/>
<line x1="1609.5" y1="1019.9" x2="1628.5" y2="1019.9" stroke="#262626" stroke-width="3.4"/>
<line x1="1609.5" y1="987.7" x2="1628.5" y2="987.7" stroke="#262626" stroke-width="3.4"/>
<line x1="1609.5" y1="959.8" x2="1628.5" y2="959.8" stroke="#262626" stroke-width="3.4"/>
<line x1="1609.5" y1="935.2" x2="1628.5" y2="935.2" stroke="#262626" stroke-width="3.4"/>
<line x1="1601.5" y1="913.2" x2="1628.5" y2="913.2" stroke="#262626" stroke-width="4.4"/>
<line x1="1609.5" y1="768.4" x2="1628.5" y2="768.4" stroke="#262626" stroke-width="3.4"/>
<line x1="1609.5" y1="683.7" x2="1628.5" y2="683.7" stroke="#262626" stroke-width="3.4"/>
<line x1="1609.5" y1="623.6" x2="1628.5" y2="623.6" stroke="#262626" stroke-width="3.4"/>
<line x1="1609.5" y1="577" x2="1628.5" y2="577" stroke="#262626" stroke-width="3.4"/>
<line x1="1609.5" y1="538.9" x2="1628.5" y2="538.9" stroke="#262626" stroke-width="3.4"/>
<line x1="1609.5" y1="506.7" x2="1628.5" y2="506.7" stroke="#262626" stroke-width="3.4"/>
<line x1="1609.5" y1="478.8" x2="1628.5" y2="478.8" stroke="#262626" stroke-width="3.4"/>
<line x1="1609.5" y1="454.2" x2="1628.5" y2="454.2" stroke="#262626" stroke-width="3.4"/>
<line x1="1601.5" y1="432.2" x2="1628.5" y2="432.2" stroke="#262626" stroke-width="4.4"/>
<line x1="1609.5" y1="287.4" x2="1628.5" y2="287.4" stroke="#262626" stroke-width="3.4"/>
<line x1="1609.5" y1="202.7" x2="1628.5" y2="202.7" stroke="#262626" stroke-width="3.4"/>
<rect x="1999" y="202.7" width="336.6" height="1672.5" fill="none" stroke="#262626" stroke-width="5" stroke-linejoin="miter"/>
<line x1="1972" y1="1875.2" x2="1999" y2="1875.2" stroke="#262626" stroke-width="4.4"/>
<line x1="1980" y1="1730.4" x2="1999" y2="1730.4" stroke="#262626" stroke-width="3.4"/>
<line x1="1980" y1="1645.7" x2="1999" y2="1645.7" stroke="#262626" stroke-width="3.4"/>
<line x1="1980" y1="1585.6" x2="1999" y2="1585.6" stroke="#262626" stroke-width="3.4"/>
<line x1="1980" y1="1539" x2="1999" y2="1539" stroke="#262626" stroke-width="3.4"/>
<line x1="1980" y1="1500.9" x2="1999" y2="1500.9" stroke="#262626" stroke-width="3.4"/>
<line x1="1980" y1="1468.7" x2="1999" y2="1468.7" stroke="#262626" stroke-width="3.4"/>
<line x1="1980" y1="1440.8" x2="1999" y2="1440.8" stroke="#262626" stroke-width="3.4"/>
<line x1="1980" y1="1416.2" x2="1999" y2="1416.2" stroke="#262626" stroke-width="3.4"/>
<line x1="1972" y1="1394.2" x2="1999" y2="1394.2" stroke="#262626" stroke-width="4.4"/>
<line x1="1980" y1="1249.4" x2="1999" y2="1249.4" stroke="#262626" stroke-width="3.4"/>
<line x1="1980" y1="1164.7" x2="1999" y2="1164.7" stroke="#262626" stroke-width="3.4"/>
<line x1="1980" y1="1104.6" x2="1999" y2="1104.6" stroke="#262626" stroke-width="3.4"/>
<line x1="1980" y1="1058" x2="1999" y2="1058" stroke="#262626" stroke-width="3.4"/>
<line x1="1980" y1="1019.9" x2="1999" y2="1019.9" stroke="#262626" stroke-width="3.4"/>
<line x1="1980" y1="987.7" x2="1999" y2="987.7" stroke="#262626" stroke-width="3.4"/>
<line x1="1980" y1="959.8" x2="1999" y2="959.8" stroke="#262626" stroke-width="3.4"/>
<line x1="1980" y1="935.2" x2="1999" y2="935.2" stroke="#262626" stroke-width="3.4"/>
<line x1="1972" y1="913.2" x2="1999" y2="913.2" stroke="#262626" stroke-width="4.4"/>
<line x1="1980" y1="768.4" x2="1999" y2="768.4" stroke="#262626" stroke-width="3.4"/>
<line x1="1980" y1="683.7" x2="1999" y2="683.7" stroke="#262626" stroke-width="3.4"/>
<line x1="1980" y1="623.6" x2="1999" y2="623.6" stroke="#262626" stroke-width="3.4"/>
<line x1="1980" y1="577" x2="1999" y2="577" stroke="#262626" stroke-width="3.4"/>
<line x1="1980" y1="538.9" x2="1999" y2="538.9" stroke="#262626" stroke-width="3.4"/>
<line x1="1980" y1="506.7" x2="1999" y2="506.7" stroke="#262626" stroke-width="3.4"/>
<line x1="1980" y1="478.8" x2="1999" y2="478.8" stroke="#262626" stroke-width="3.4"/>
<line x1="1980" y1="454.2" x2="1999" y2="454.2" stroke="#262626" stroke-width="3.4"/>
<line x1="1972" y1="432.2" x2="1999" y2="432.2" stroke="#262626" stroke-width="4.4"/>
<line x1="1980" y1="287.4" x2="1999" y2="287.4" stroke="#262626" stroke-width="3.4"/>
<line x1="1980" y1="202.7" x2="1999" y2="202.7" stroke="#262626" stroke-width="3.4"/>
<rect x="2503.5" y="195.4" width="336.7" height="1679.4" fill="none" stroke="#262626" stroke-width="5" stroke-linejoin="miter"/>
<line x1="2476.5" y1="1874.8" x2="2503.5" y2="1874.8" stroke="#262626" stroke-width="4.4"/>
<line x1="2484.5" y1="1729.4" x2="2503.5" y2="1729.4" stroke="#262626" stroke-width="3.4"/>
<line x1="2484.5" y1="1644.4" x2="2503.5" y2="1644.4" stroke="#262626" stroke-width="3.4"/>
<line x1="2484.5" y1="1584" x2="2503.5" y2="1584" stroke="#262626" stroke-width="3.4"/>
<line x1="2484.5" y1="1537.2" x2="2503.5" y2="1537.2" stroke="#262626" stroke-width="3.4"/>
<line x1="2484.5" y1="1499" x2="2503.5" y2="1499" stroke="#262626" stroke-width="3.4"/>
<line x1="2484.5" y1="1466.6" x2="2503.5" y2="1466.6" stroke="#262626" stroke-width="3.4"/>
<line x1="2484.5" y1="1438.6" x2="2503.5" y2="1438.6" stroke="#262626" stroke-width="3.4"/>
<line x1="2484.5" y1="1413.9" x2="2503.5" y2="1413.9" stroke="#262626" stroke-width="3.4"/>
<line x1="2476.5" y1="1391.8" x2="2503.5" y2="1391.8" stroke="#262626" stroke-width="4.4"/>
<line x1="2484.5" y1="1246.4" x2="2503.5" y2="1246.4" stroke="#262626" stroke-width="3.4"/>
<line x1="2484.5" y1="1161.4" x2="2503.5" y2="1161.4" stroke="#262626" stroke-width="3.4"/>
<line x1="2484.5" y1="1101" x2="2503.5" y2="1101" stroke="#262626" stroke-width="3.4"/>
<line x1="2484.5" y1="1054.2" x2="2503.5" y2="1054.2" stroke="#262626" stroke-width="3.4"/>
<line x1="2484.5" y1="1016" x2="2503.5" y2="1016" stroke="#262626" stroke-width="3.4"/>
<line x1="2484.5" y1="983.6" x2="2503.5" y2="983.6" stroke="#262626" stroke-width="3.4"/>
<line x1="2484.5" y1="955.6" x2="2503.5" y2="955.6" stroke="#262626" stroke-width="3.4"/>
<line x1="2484.5" y1="930.9" x2="2503.5" y2="930.9" stroke="#262626" stroke-width="3.4"/>
<line x1="2476.5" y1="908.8" x2="2503.5" y2="908.8" stroke="#262626" stroke-width="4.4"/>
<line x1="2484.5" y1="763.4" x2="2503.5" y2="763.4" stroke="#262626" stroke-width="3.4"/>
<line x1="2484.5" y1="678.4" x2="2503.5" y2="678.4" stroke="#262626" stroke-width="3.4"/>
<line x1="2484.5" y1="618" x2="2503.5" y2="618" stroke="#262626" stroke-width="3.4"/>
<line x1="2484.5" y1="571.2" x2="2503.5" y2="571.2" stroke="#262626" stroke-width="3.4"/>
<line x1="2484.5" y1="533" x2="2503.5" y2="533" stroke="#262626" stroke-width="3.4"/>
<line x1="2484.5" y1="500.7" x2="2503.5" y2="500.7" stroke="#262626" stroke-width="3.4"/>
<line x1="2484.5" y1="472.6" x2="2503.5" y2="472.6" stroke="#262626" stroke-width="3.4"/>
<line x1="2484.5" y1="447.9" x2="2503.5" y2="447.9" stroke="#262626" stroke-width="3.4"/>
<line x1="2476.5" y1="425.8" x2="2503.5" y2="425.8" stroke="#262626" stroke-width="4.4"/>
<line x1="2484.5" y1="280.4" x2="2503.5" y2="280.4" stroke="#262626" stroke-width="3.4"/>
<line x1="2484.5" y1="195.4" x2="2503.5" y2="195.4" stroke="#262626" stroke-width="3.4"/>
<rect x="2873.2" y="195.4" width="337.6" height="1679.4" fill="none" stroke="#262626" stroke-width="5" stroke-linejoin="miter"/>
<line x1="2846.2" y1="1874.8" x2="2873.2" y2="1874.8" stroke="#262626" stroke-width="4.4"/>
<line x1="2854.2" y1="1729.4" x2="2873.2" y2="1729.4" stroke="#262626" stroke-width="3.4"/>
<line x1="2854.2" y1="1644.4" x2="2873.2" y2="1644.4" stroke="#262626" stroke-width="3.4"/>
<line x1="2854.2" y1="1584" x2="2873.2" y2="1584" stroke="#262626" stroke-width="3.4"/>
<line x1="2854.2" y1="1537.2" x2="2873.2" y2="1537.2" stroke="#262626" stroke-width="3.4"/>
<line x1="2854.2" y1="1499" x2="2873.2" y2="1499" stroke="#262626" stroke-width="3.4"/>
<line x1="2854.2" y1="1466.6" x2="2873.2" y2="1466.6" stroke="#262626" stroke-width="3.4"/>
<line x1="2854.2" y1="1438.6" x2="2873.2" y2="1438.6" stroke="#262626" stroke-width="3.4"/>
<line x1="2854.2" y1="1413.9" x2="2873.2" y2="1413.9" stroke="#262626" stroke-width="3.4"/>
<line x1="2846.2" y1="1391.8" x2="2873.2" y2="1391.8" stroke="#262626" stroke-width="4.4"/>
<line x1="2854.2" y1="1246.4" x2="2873.2" y2="1246.4" stroke="#262626" stroke-width="3.4"/>
<line x1="2854.2" y1="1161.4" x2="2873.2" y2="1161.4" stroke="#262626" stroke-width="3.4"/>
<line x1="2854.2" y1="1101" x2="2873.2" y2="1101" stroke="#262626" stroke-width="3.4"/>
<line x1="2854.2" y1="1054.2" x2="2873.2" y2="1054.2" stroke="#262626" stroke-width="3.4"/>
<line x1="2854.2" y1="1016" x2="2873.2" y2="1016" stroke="#262626" stroke-width="3.4"/>
<line x1="2854.2" y1="983.6" x2="2873.2" y2="983.6" stroke="#262626" stroke-width="3.4"/>
<line x1="2854.2" y1="955.6" x2="2873.2" y2="955.6" stroke="#262626" stroke-width="3.4"/>
<line x1="2854.2" y1="930.9" x2="2873.2" y2="930.9" stroke="#262626" stroke-width="3.4"/>
<line x1="2846.2" y1="908.8" x2="2873.2" y2="908.8" stroke="#262626" stroke-width="4.4"/>
<line x1="2854.2" y1="763.4" x2="2873.2" y2="763.4" stroke="#262626" stroke-width="3.4"/>
<line x1="2854.2" y1="678.4" x2="2873.2" y2="678.4" stroke="#262626" stroke-width="3.4"/>
<line x1="2854.2" y1="618" x2="2873.2" y2="618" stroke="#262626" stroke-width="3.4"/>
<line x1="2854.2" y1="571.2" x2="2873.2" y2="571.2" stroke="#262626" stroke-width="3.4"/>
<line x1="2854.2" y1="533" x2="2873.2" y2="533" stroke="#262626" stroke-width="3.4"/>
<line x1="2854.2" y1="500.7" x2="2873.2" y2="500.7" stroke="#262626" stroke-width="3.4"/>
<line x1="2854.2" y1="472.6" x2="2873.2" y2="472.6" stroke="#262626" stroke-width="3.4"/>
<line x1="2854.2" y1="447.9" x2="2873.2" y2="447.9" stroke="#262626" stroke-width="3.4"/>
<line x1="2846.2" y1="425.8" x2="2873.2" y2="425.8" stroke="#262626" stroke-width="4.4"/>
<line x1="2854.2" y1="280.4" x2="2873.2" y2="280.4" stroke="#262626" stroke-width="3.4"/>
<line x1="2854.2" y1="195.4" x2="2873.2" y2="195.4" stroke="#262626" stroke-width="3.4"/>
<rect x="340.8" y="2104.8" width="337.5" height="1677.8" fill="none" stroke="#262626" stroke-width="5" stroke-linejoin="miter"/>
<line x1="313.8" y1="3782.6" x2="340.8" y2="3782.6" stroke="#262626" stroke-width="4.4"/>
<line x1="321.8" y1="3637.3" x2="340.8" y2="3637.3" stroke="#262626" stroke-width="3.4"/>
<line x1="321.8" y1="3552.4" x2="340.8" y2="3552.4" stroke="#262626" stroke-width="3.4"/>
<line x1="321.8" y1="3492.1" x2="340.8" y2="3492.1" stroke="#262626" stroke-width="3.4"/>
<line x1="321.8" y1="3445.3" x2="340.8" y2="3445.3" stroke="#262626" stroke-width="3.4"/>
<line x1="321.8" y1="3407.1" x2="340.8" y2="3407.1" stroke="#262626" stroke-width="3.4"/>
<line x1="321.8" y1="3374.8" x2="340.8" y2="3374.8" stroke="#262626" stroke-width="3.4"/>
<line x1="321.8" y1="3346.8" x2="340.8" y2="3346.8" stroke="#262626" stroke-width="3.4"/>
<line x1="321.8" y1="3322.2" x2="340.8" y2="3322.2" stroke="#262626" stroke-width="3.4"/>
<line x1="313.8" y1="3300.1" x2="340.8" y2="3300.1" stroke="#262626" stroke-width="4.4"/>
<line x1="321.8" y1="3154.8" x2="340.8" y2="3154.8" stroke="#262626" stroke-width="3.4"/>
<line x1="321.8" y1="3069.9" x2="340.8" y2="3069.9" stroke="#262626" stroke-width="3.4"/>
<line x1="321.8" y1="3009.6" x2="340.8" y2="3009.6" stroke="#262626" stroke-width="3.4"/>
<line x1="321.8" y1="2962.8" x2="340.8" y2="2962.8" stroke="#262626" stroke-width="3.4"/>
<line x1="321.8" y1="2924.6" x2="340.8" y2="2924.6" stroke="#262626" stroke-width="3.4"/>
<line x1="321.8" y1="2892.3" x2="340.8" y2="2892.3" stroke="#262626" stroke-width="3.4"/>
<line x1="321.8" y1="2864.3" x2="340.8" y2="2864.3" stroke="#262626" stroke-width="3.4"/>
<line x1="321.8" y1="2839.6" x2="340.8" y2="2839.6" stroke="#262626" stroke-width="3.4"/>
<line x1="313.8" y1="2817.5" x2="340.8" y2="2817.5" stroke="#262626" stroke-width="4.4"/>
<line x1="321.8" y1="2672.3" x2="340.8" y2="2672.3" stroke="#262626" stroke-width="3.4"/>
<line x1="321.8" y1="2587.3" x2="340.8" y2="2587.3" stroke="#262626" stroke-width="3.4"/>
<line x1="321.8" y1="2527" x2="340.8" y2="2527" stroke="#262626" stroke-width="3.4"/>
<line x1="321.8" y1="2480.3" x2="340.8" y2="2480.3" stroke="#262626" stroke-width="3.4"/>
<line x1="321.8" y1="2442.1" x2="340.8" y2="2442.1" stroke="#262626" stroke-width="3.4"/>
<line x1="321.8" y1="2409.8" x2="340.8" y2="2409.8" stroke="#262626" stroke-width="3.4"/>
<line x1="321.8" y1="2381.8" x2="340.8" y2="2381.8" stroke="#262626" stroke-width="3.4"/>
<line x1="321.8" y1="2357.1" x2="340.8" y2="2357.1" stroke="#262626" stroke-width="3.4"/>
<line x1="313.8" y1="2335" x2="340.8" y2="2335" stroke="#262626" stroke-width="4.4"/>
<line x1="321.8" y1="2189.8" x2="340.8" y2="2189.8" stroke="#262626" stroke-width="3.4"/>
<line x1="321.8" y1="2104.8" x2="340.8" y2="2104.8" stroke="#262626" stroke-width="3.4"/>
<rect x="707" y="2104.8" width="337" height="1677.8" fill="none" stroke="#262626" stroke-width="5" stroke-linejoin="miter"/>
<line x1="699.5" y1="3782.6" x2="707" y2="3782.6" stroke="#262626" stroke-width="4.4"/>
<line x1="699.5" y1="3637.3" x2="707" y2="3637.3" stroke="#262626" stroke-width="3.4"/>
<line x1="699.5" y1="3552.4" x2="707" y2="3552.4" stroke="#262626" stroke-width="3.4"/>
<line x1="699.5" y1="3492.1" x2="707" y2="3492.1" stroke="#262626" stroke-width="3.4"/>
<line x1="699.5" y1="3445.3" x2="707" y2="3445.3" stroke="#262626" stroke-width="3.4"/>
<line x1="699.5" y1="3407.1" x2="707" y2="3407.1" stroke="#262626" stroke-width="3.4"/>
<line x1="699.5" y1="3374.8" x2="707" y2="3374.8" stroke="#262626" stroke-width="3.4"/>
<line x1="699.5" y1="3346.8" x2="707" y2="3346.8" stroke="#262626" stroke-width="3.4"/>
<line x1="699.5" y1="3322.2" x2="707" y2="3322.2" stroke="#262626" stroke-width="3.4"/>
<line x1="699.5" y1="3300.1" x2="707" y2="3300.1" stroke="#262626" stroke-width="4.4"/>
<line x1="699.5" y1="3154.8" x2="707" y2="3154.8" stroke="#262626" stroke-width="3.4"/>
<line x1="699.5" y1="3069.9" x2="707" y2="3069.9" stroke="#262626" stroke-width="3.4"/>
<line x1="699.5" y1="3009.6" x2="707" y2="3009.6" stroke="#262626" stroke-width="3.4"/>
<line x1="699.5" y1="2962.8" x2="707" y2="2962.8" stroke="#262626" stroke-width="3.4"/>
<line x1="699.5" y1="2924.6" x2="707" y2="2924.6" stroke="#262626" stroke-width="3.4"/>
<line x1="699.5" y1="2892.3" x2="707" y2="2892.3" stroke="#262626" stroke-width="3.4"/>
<line x1="699.5" y1="2864.3" x2="707" y2="2864.3" stroke="#262626" stroke-width="3.4"/>
<line x1="699.5" y1="2839.6" x2="707" y2="2839.6" stroke="#262626" stroke-width="3.4"/>
<line x1="699.5" y1="2817.5" x2="707" y2="2817.5" stroke="#262626" stroke-width="4.4"/>
<line x1="699.5" y1="2672.3" x2="707" y2="2672.3" stroke="#262626" stroke-width="3.4"/>
<line x1="699.5" y1="2587.3" x2="707" y2="2587.3" stroke="#262626" stroke-width="3.4"/>
<line x1="699.5" y1="2527" x2="707" y2="2527" stroke="#262626" stroke-width="3.4"/>
<line x1="699.5" y1="2480.3" x2="707" y2="2480.3" stroke="#262626" stroke-width="3.4"/>
<line x1="699.5" y1="2442.1" x2="707" y2="2442.1" stroke="#262626" stroke-width="3.4"/>
<line x1="699.5" y1="2409.8" x2="707" y2="2409.8" stroke="#262626" stroke-width="3.4"/>
<line x1="699.5" y1="2381.8" x2="707" y2="2381.8" stroke="#262626" stroke-width="3.4"/>
<line x1="699.5" y1="2357.1" x2="707" y2="2357.1" stroke="#262626" stroke-width="3.4"/>
<line x1="699.5" y1="2335" x2="707" y2="2335" stroke="#262626" stroke-width="4.4"/>
<line x1="699.5" y1="2189.8" x2="707" y2="2189.8" stroke="#262626" stroke-width="3.4"/>
<line x1="699.5" y1="2104.8" x2="707" y2="2104.8" stroke="#262626" stroke-width="3.4"/>
<rect x="1225.8" y="2104.8" width="337" height="1677.8" fill="none" stroke="#262626" stroke-width="5" stroke-linejoin="miter"/>
<line x1="1198.8" y1="3782.6" x2="1225.8" y2="3782.6" stroke="#262626" stroke-width="4.4"/>
<line x1="1206.8" y1="3637.3" x2="1225.8" y2="3637.3" stroke="#262626" stroke-width="3.4"/>
<line x1="1206.8" y1="3552.4" x2="1225.8" y2="3552.4" stroke="#262626" stroke-width="3.4"/>
<line x1="1206.8" y1="3492.1" x2="1225.8" y2="3492.1" stroke="#262626" stroke-width="3.4"/>
<line x1="1206.8" y1="3445.3" x2="1225.8" y2="3445.3" stroke="#262626" stroke-width="3.4"/>
<line x1="1206.8" y1="3407.1" x2="1225.8" y2="3407.1" stroke="#262626" stroke-width="3.4"/>
<line x1="1206.8" y1="3374.8" x2="1225.8" y2="3374.8" stroke="#262626" stroke-width="3.4"/>
<line x1="1206.8" y1="3346.8" x2="1225.8" y2="3346.8" stroke="#262626" stroke-width="3.4"/>
<line x1="1206.8" y1="3322.2" x2="1225.8" y2="3322.2" stroke="#262626" stroke-width="3.4"/>
<line x1="1198.8" y1="3300.1" x2="1225.8" y2="3300.1" stroke="#262626" stroke-width="4.4"/>
<line x1="1206.8" y1="3154.8" x2="1225.8" y2="3154.8" stroke="#262626" stroke-width="3.4"/>
<line x1="1206.8" y1="3069.9" x2="1225.8" y2="3069.9" stroke="#262626" stroke-width="3.4"/>
<line x1="1206.8" y1="3009.6" x2="1225.8" y2="3009.6" stroke="#262626" stroke-width="3.4"/>
<line x1="1206.8" y1="2962.8" x2="1225.8" y2="2962.8" stroke="#262626" stroke-width="3.4"/>
<line x1="1206.8" y1="2924.6" x2="1225.8" y2="2924.6" stroke="#262626" stroke-width="3.4"/>
<line x1="1206.8" y1="2892.3" x2="1225.8" y2="2892.3" stroke="#262626" stroke-width="3.4"/>
<line x1="1206.8" y1="2864.3" x2="1225.8" y2="2864.3" stroke="#262626" stroke-width="3.4"/>
<line x1="1206.8" y1="2839.6" x2="1225.8" y2="2839.6" stroke="#262626" stroke-width="3.4"/>
<line x1="1198.8" y1="2817.5" x2="1225.8" y2="2817.5" stroke="#262626" stroke-width="4.4"/>
<line x1="1206.8" y1="2672.3" x2="1225.8" y2="2672.3" stroke="#262626" stroke-width="3.4"/>
<line x1="1206.8" y1="2587.3" x2="1225.8" y2="2587.3" stroke="#262626" stroke-width="3.4"/>
<line x1="1206.8" y1="2527" x2="1225.8" y2="2527" stroke="#262626" stroke-width="3.4"/>
<line x1="1206.8" y1="2480.3" x2="1225.8" y2="2480.3" stroke="#262626" stroke-width="3.4"/>
<line x1="1206.8" y1="2442.1" x2="1225.8" y2="2442.1" stroke="#262626" stroke-width="3.4"/>
<line x1="1206.8" y1="2409.8" x2="1225.8" y2="2409.8" stroke="#262626" stroke-width="3.4"/>
<line x1="1206.8" y1="2381.8" x2="1225.8" y2="2381.8" stroke="#262626" stroke-width="3.4"/>
<line x1="1206.8" y1="2357.1" x2="1225.8" y2="2357.1" stroke="#262626" stroke-width="3.4"/>
<line x1="1198.8" y1="2335" x2="1225.8" y2="2335" stroke="#262626" stroke-width="4.4"/>
<line x1="1206.8" y1="2189.8" x2="1225.8" y2="2189.8" stroke="#262626" stroke-width="3.4"/>
<line x1="1206.8" y1="2104.8" x2="1225.8" y2="2104.8" stroke="#262626" stroke-width="3.4"/>
<rect x="1599.5" y="2104.8" width="337" height="1677.8" fill="none" stroke="#262626" stroke-width="5" stroke-linejoin="miter"/>
<line x1="1572.5" y1="3782.6" x2="1599.5" y2="3782.6" stroke="#262626" stroke-width="4.4"/>
<line x1="1580.5" y1="3637.3" x2="1599.5" y2="3637.3" stroke="#262626" stroke-width="3.4"/>
<line x1="1580.5" y1="3552.4" x2="1599.5" y2="3552.4" stroke="#262626" stroke-width="3.4"/>
<line x1="1580.5" y1="3492.1" x2="1599.5" y2="3492.1" stroke="#262626" stroke-width="3.4"/>
<line x1="1580.5" y1="3445.3" x2="1599.5" y2="3445.3" stroke="#262626" stroke-width="3.4"/>
<line x1="1580.5" y1="3407.1" x2="1599.5" y2="3407.1" stroke="#262626" stroke-width="3.4"/>
<line x1="1580.5" y1="3374.8" x2="1599.5" y2="3374.8" stroke="#262626" stroke-width="3.4"/>
<line x1="1580.5" y1="3346.8" x2="1599.5" y2="3346.8" stroke="#262626" stroke-width="3.4"/>
<line x1="1580.5" y1="3322.2" x2="1599.5" y2="3322.2" stroke="#262626" stroke-width="3.4"/>
<line x1="1572.5" y1="3300.1" x2="1599.5" y2="3300.1" stroke="#262626" stroke-width="4.4"/>
<line x1="1580.5" y1="3154.8" x2="1599.5" y2="3154.8" stroke="#262626" stroke-width="3.4"/>
<line x1="1580.5" y1="3069.9" x2="1599.5" y2="3069.9" stroke="#262626" stroke-width="3.4"/>
<line x1="1580.5" y1="3009.6" x2="1599.5" y2="3009.6" stroke="#262626" stroke-width="3.4"/>
<line x1="1580.5" y1="2962.8" x2="1599.5" y2="2962.8" stroke="#262626" stroke-width="3.4"/>
<line x1="1580.5" y1="2924.6" x2="1599.5" y2="2924.6" stroke="#262626" stroke-width="3.4"/>
<line x1="1580.5" y1="2892.3" x2="1599.5" y2="2892.3" stroke="#262626" stroke-width="3.4"/>
<line x1="1580.5" y1="2864.3" x2="1599.5" y2="2864.3" stroke="#262626" stroke-width="3.4"/>
<line x1="1580.5" y1="2839.6" x2="1599.5" y2="2839.6" stroke="#262626" stroke-width="3.4"/>
<line x1="1572.5" y1="2817.5" x2="1599.5" y2="2817.5" stroke="#262626" stroke-width="4.4"/>
<line x1="1580.5" y1="2672.3" x2="1599.5" y2="2672.3" stroke="#262626" stroke-width="3.4"/>
<line x1="1580.5" y1="2587.3" x2="1599.5" y2="2587.3" stroke="#262626" stroke-width="3.4"/>
<line x1="1580.5" y1="2527" x2="1599.5" y2="2527" stroke="#262626" stroke-width="3.4"/>
<line x1="1580.5" y1="2480.3" x2="1599.5" y2="2480.3" stroke="#262626" stroke-width="3.4"/>
<line x1="1580.5" y1="2442.1" x2="1599.5" y2="2442.1" stroke="#262626" stroke-width="3.4"/>
<line x1="1580.5" y1="2409.8" x2="1599.5" y2="2409.8" stroke="#262626" stroke-width="3.4"/>
<line x1="1580.5" y1="2381.8" x2="1599.5" y2="2381.8" stroke="#262626" stroke-width="3.4"/>
<line x1="1580.5" y1="2357.1" x2="1599.5" y2="2357.1" stroke="#262626" stroke-width="3.4"/>
<line x1="1572.5" y1="2335" x2="1599.5" y2="2335" stroke="#262626" stroke-width="4.4"/>
<line x1="1580.5" y1="2189.8" x2="1599.5" y2="2189.8" stroke="#262626" stroke-width="3.4"/>
<line x1="1580.5" y1="2104.8" x2="1599.5" y2="2104.8" stroke="#262626" stroke-width="3.4"/>
<rect x="1971.3" y="2104.8" width="336.7" height="1677.8" fill="none" stroke="#262626" stroke-width="5" stroke-linejoin="miter"/>
<line x1="1944.3" y1="3782.6" x2="1971.3" y2="3782.6" stroke="#262626" stroke-width="4.4"/>
<line x1="1952.3" y1="3637.3" x2="1971.3" y2="3637.3" stroke="#262626" stroke-width="3.4"/>
<line x1="1952.3" y1="3552.4" x2="1971.3" y2="3552.4" stroke="#262626" stroke-width="3.4"/>
<line x1="1952.3" y1="3492.1" x2="1971.3" y2="3492.1" stroke="#262626" stroke-width="3.4"/>
<line x1="1952.3" y1="3445.3" x2="1971.3" y2="3445.3" stroke="#262626" stroke-width="3.4"/>
<line x1="1952.3" y1="3407.1" x2="1971.3" y2="3407.1" stroke="#262626" stroke-width="3.4"/>
<line x1="1952.3" y1="3374.8" x2="1971.3" y2="3374.8" stroke="#262626" stroke-width="3.4"/>
<line x1="1952.3" y1="3346.8" x2="1971.3" y2="3346.8" stroke="#262626" stroke-width="3.4"/>
<line x1="1952.3" y1="3322.2" x2="1971.3" y2="3322.2" stroke="#262626" stroke-width="3.4"/>
<line x1="1944.3" y1="3300.1" x2="1971.3" y2="3300.1" stroke="#262626" stroke-width="4.4"/>
<line x1="1952.3" y1="3154.8" x2="1971.3" y2="3154.8" stroke="#262626" stroke-width="3.4"/>
<line x1="1952.3" y1="3069.9" x2="1971.3" y2="3069.9" stroke="#262626" stroke-width="3.4"/>
<line x1="1952.3" y1="3009.6" x2="1971.3" y2="3009.6" stroke="#262626" stroke-width="3.4"/>
<line x1="1952.3" y1="2962.8" x2="1971.3" y2="2962.8" stroke="#262626" stroke-width="3.4"/>
<line x1="1952.3" y1="2924.6" x2="1971.3" y2="2924.6" stroke="#262626" stroke-width="3.4"/>
<line x1="1952.3" y1="2892.3" x2="1971.3" y2="2892.3" stroke="#262626" stroke-width="3.4"/>
<line x1="1952.3" y1="2864.3" x2="1971.3" y2="2864.3" stroke="#262626" stroke-width="3.4"/>
<line x1="1952.3" y1="2839.6" x2="1971.3" y2="2839.6" stroke="#262626" stroke-width="3.4"/>
<line x1="1944.3" y1="2817.5" x2="1971.3" y2="2817.5" stroke="#262626" stroke-width="4.4"/>
<line x1="1952.3" y1="2672.3" x2="1971.3" y2="2672.3" stroke="#262626" stroke-width="3.4"/>
<line x1="1952.3" y1="2587.3" x2="1971.3" y2="2587.3" stroke="#262626" stroke-width="3.4"/>
<line x1="1952.3" y1="2527" x2="1971.3" y2="2527" stroke="#262626" stroke-width="3.4"/>
<line x1="1952.3" y1="2480.3" x2="1971.3" y2="2480.3" stroke="#262626" stroke-width="3.4"/>
<line x1="1952.3" y1="2442.1" x2="1971.3" y2="2442.1" stroke="#262626" stroke-width="3.4"/>
<line x1="1952.3" y1="2409.8" x2="1971.3" y2="2409.8" stroke="#262626" stroke-width="3.4"/>
<line x1="1952.3" y1="2381.8" x2="1971.3" y2="2381.8" stroke="#262626" stroke-width="3.4"/>
<line x1="1952.3" y1="2357.1" x2="1971.3" y2="2357.1" stroke="#262626" stroke-width="3.4"/>
<line x1="1944.3" y1="2335" x2="1971.3" y2="2335" stroke="#262626" stroke-width="4.4"/>
<line x1="1952.3" y1="2189.8" x2="1971.3" y2="2189.8" stroke="#262626" stroke-width="3.4"/>
<line x1="1952.3" y1="2104.8" x2="1971.3" y2="2104.8" stroke="#262626" stroke-width="3.4"/>
<rect x="2478.2" y="2104.8" width="337" height="1677.8" fill="none" stroke="#262626" stroke-width="5" stroke-linejoin="miter"/>
<line x1="2451.2" y1="3782.6" x2="2478.2" y2="3782.6" stroke="#262626" stroke-width="4.4"/>
<line x1="2459.2" y1="3637.3" x2="2478.2" y2="3637.3" stroke="#262626" stroke-width="3.4"/>
<line x1="2459.2" y1="3552.4" x2="2478.2" y2="3552.4" stroke="#262626" stroke-width="3.4"/>
<line x1="2459.2" y1="3492.1" x2="2478.2" y2="3492.1" stroke="#262626" stroke-width="3.4"/>
<line x1="2459.2" y1="3445.3" x2="2478.2" y2="3445.3" stroke="#262626" stroke-width="3.4"/>
<line x1="2459.2" y1="3407.1" x2="2478.2" y2="3407.1" stroke="#262626" stroke-width="3.4"/>
<line x1="2459.2" y1="3374.8" x2="2478.2" y2="3374.8" stroke="#262626" stroke-width="3.4"/>
<line x1="2459.2" y1="3346.8" x2="2478.2" y2="3346.8" stroke="#262626" stroke-width="3.4"/>
<line x1="2459.2" y1="3322.2" x2="2478.2" y2="3322.2" stroke="#262626" stroke-width="3.4"/>
<line x1="2451.2" y1="3300.1" x2="2478.2" y2="3300.1" stroke="#262626" stroke-width="4.4"/>
<line x1="2459.2" y1="3154.8" x2="2478.2" y2="3154.8" stroke="#262626" stroke-width="3.4"/>
<line x1="2459.2" y1="3069.9" x2="2478.2" y2="3069.9" stroke="#262626" stroke-width="3.4"/>
<line x1="2459.2" y1="3009.6" x2="2478.2" y2="3009.6" stroke="#262626" stroke-width="3.4"/>
<line x1="2459.2" y1="2962.8" x2="2478.2" y2="2962.8" stroke="#262626" stroke-width="3.4"/>
<line x1="2459.2" y1="2924.6" x2="2478.2" y2="2924.6" stroke="#262626" stroke-width="3.4"/>
<line x1="2459.2" y1="2892.3" x2="2478.2" y2="2892.3" stroke="#262626" stroke-width="3.4"/>
<line x1="2459.2" y1="2864.3" x2="2478.2" y2="2864.3" stroke="#262626" stroke-width="3.4"/>
<line x1="2459.2" y1="2839.6" x2="2478.2" y2="2839.6" stroke="#262626" stroke-width="3.4"/>
<line x1="2451.2" y1="2817.5" x2="2478.2" y2="2817.5" stroke="#262626" stroke-width="4.4"/>
<line x1="2459.2" y1="2672.3" x2="2478.2" y2="2672.3" stroke="#262626" stroke-width="3.4"/>
<line x1="2459.2" y1="2587.3" x2="2478.2" y2="2587.3" stroke="#262626" stroke-width="3.4"/>
<line x1="2459.2" y1="2527" x2="2478.2" y2="2527" stroke="#262626" stroke-width="3.4"/>
<line x1="2459.2" y1="2480.3" x2="2478.2" y2="2480.3" stroke="#262626" stroke-width="3.4"/>
<line x1="2459.2" y1="2442.1" x2="2478.2" y2="2442.1" stroke="#262626" stroke-width="3.4"/>
<line x1="2459.2" y1="2409.8" x2="2478.2" y2="2409.8" stroke="#262626" stroke-width="3.4"/>
<line x1="2459.2" y1="2381.8" x2="2478.2" y2="2381.8" stroke="#262626" stroke-width="3.4"/>
<line x1="2459.2" y1="2357.1" x2="2478.2" y2="2357.1" stroke="#262626" stroke-width="3.4"/>
<line x1="2451.2" y1="2335" x2="2478.2" y2="2335" stroke="#262626" stroke-width="4.4"/>
<line x1="2459.2" y1="2189.8" x2="2478.2" y2="2189.8" stroke="#262626" stroke-width="3.4"/>
<line x1="2459.2" y1="2104.8" x2="2478.2" y2="2104.8" stroke="#262626" stroke-width="3.4"/>
<rect x="2851.5" y="2104.8" width="336" height="1677.8" fill="none" stroke="#262626" stroke-width="5" stroke-linejoin="miter"/>
<line x1="2824.5" y1="3782.6" x2="2851.5" y2="3782.6" stroke="#262626" stroke-width="4.4"/>
<line x1="2832.5" y1="3637.3" x2="2851.5" y2="3637.3" stroke="#262626" stroke-width="3.4"/>
<line x1="2832.5" y1="3552.4" x2="2851.5" y2="3552.4" stroke="#262626" stroke-width="3.4"/>
<line x1="2832.5" y1="3492.1" x2="2851.5" y2="3492.1" stroke="#262626" stroke-width="3.4"/>
<line x1="2832.5" y1="3445.3" x2="2851.5" y2="3445.3" stroke="#262626" stroke-width="3.4"/>
<line x1="2832.5" y1="3407.1" x2="2851.5" y2="3407.1" stroke="#262626" stroke-width="3.4"/>
<line x1="2832.5" y1="3374.8" x2="2851.5" y2="3374.8" stroke="#262626" stroke-width="3.4"/>
<line x1="2832.5" y1="3346.8" x2="2851.5" y2="3346.8" stroke="#262626" stroke-width="3.4"/>
<line x1="2832.5" y1="3322.2" x2="2851.5" y2="3322.2" stroke="#262626" stroke-width="3.4"/>
<line x1="2824.5" y1="3300.1" x2="2851.5" y2="3300.1" stroke="#262626" stroke-width="4.4"/>
<line x1="2832.5" y1="3154.8" x2="2851.5" y2="3154.8" stroke="#262626" stroke-width="3.4"/>
<line x1="2832.5" y1="3069.9" x2="2851.5" y2="3069.9" stroke="#262626" stroke-width="3.4"/>
<line x1="2832.5" y1="3009.6" x2="2851.5" y2="3009.6" stroke="#262626" stroke-width="3.4"/>
<line x1="2832.5" y1="2962.8" x2="2851.5" y2="2962.8" stroke="#262626" stroke-width="3.4"/>
<line x1="2832.5" y1="2924.6" x2="2851.5" y2="2924.6" stroke="#262626" stroke-width="3.4"/>
<line x1="2832.5" y1="2892.3" x2="2851.5" y2="2892.3" stroke="#262626" stroke-width="3.4"/>
<line x1="2832.5" y1="2864.3" x2="2851.5" y2="2864.3" stroke="#262626" stroke-width="3.4"/>
<line x1="2832.5" y1="2839.6" x2="2851.5" y2="2839.6" stroke="#262626" stroke-width="3.4"/>
<line x1="2824.5" y1="2817.5" x2="2851.5" y2="2817.5" stroke="#262626" stroke-width="4.4"/>
<line x1="2832.5" y1="2672.3" x2="2851.5" y2="2672.3" stroke="#262626" stroke-width="3.4"/>
<line x1="2832.5" y1="2587.3" x2="2851.5" y2="2587.3" stroke="#262626" stroke-width="3.4"/>
<line x1="2832.5" y1="2527" x2="2851.5" y2="2527" stroke="#262626" stroke-width="3.4"/>
<line x1="2832.5" y1="2480.3" x2="2851.5" y2="2480.3" stroke="#262626" stroke-width="3.4"/>
<line x1="2832.5" y1="2442.1" x2="2851.5" y2="2442.1" stroke="#262626" stroke-width="3.4"/>
<line x1="2832.5" y1="2409.8" x2="2851.5" y2="2409.8" stroke="#262626" stroke-width="3.4"/>
<line x1="2832.5" y1="2381.8" x2="2851.5" y2="2381.8" stroke="#262626" stroke-width="3.4"/>
<line x1="2832.5" y1="2357.1" x2="2851.5" y2="2357.1" stroke="#262626" stroke-width="3.4"/>
<line x1="2824.5" y1="2335" x2="2851.5" y2="2335" stroke="#262626" stroke-width="4.4"/>
<line x1="2832.5" y1="2189.8" x2="2851.5" y2="2189.8" stroke="#262626" stroke-width="3.4"/>
<line x1="2832.5" y1="2104.8" x2="2851.5" y2="2104.8" stroke="#262626" stroke-width="3.4"/>
<rect x="3223.7" y="2104.8" width="338.3" height="1677.8" fill="none" stroke="#262626" stroke-width="5" stroke-linejoin="miter"/>
<line x1="3196.7" y1="3782.6" x2="3223.7" y2="3782.6" stroke="#262626" stroke-width="4.4"/>
<line x1="3204.7" y1="3637.3" x2="3223.7" y2="3637.3" stroke="#262626" stroke-width="3.4"/>
<line x1="3204.7" y1="3552.4" x2="3223.7" y2="3552.4" stroke="#262626" stroke-width="3.4"/>
<line x1="3204.7" y1="3492.1" x2="3223.7" y2="3492.1" stroke="#262626" stroke-width="3.4"/>
<line x1="3204.7" y1="3445.3" x2="3223.7" y2="3445.3" stroke="#262626" stroke-width="3.4"/>
<line x1="3204.7" y1="3407.1" x2="3223.7" y2="3407.1" stroke="#262626" stroke-width="3.4"/>
<line x1="3204.7" y1="3374.8" x2="3223.7" y2="3374.8" stroke="#262626" stroke-width="3.4"/>
<line x1="3204.7" y1="3346.8" x2="3223.7" y2="3346.8" stroke="#262626" stroke-width="3.4"/>
<line x1="3204.7" y1="3322.2" x2="3223.7" y2="3322.2" stroke="#262626" stroke-width="3.4"/>
<line x1="3196.7" y1="3300.1" x2="3223.7" y2="3300.1" stroke="#262626" stroke-width="4.4"/>
<line x1="3204.7" y1="3154.8" x2="3223.7" y2="3154.8" stroke="#262626" stroke-width="3.4"/>
<line x1="3204.7" y1="3069.9" x2="3223.7" y2="3069.9" stroke="#262626" stroke-width="3.4"/>
<line x1="3204.7" y1="3009.6" x2="3223.7" y2="3009.6" stroke="#262626" stroke-width="3.4"/>
<line x1="3204.7" y1="2962.8" x2="3223.7" y2="2962.8" stroke="#262626" stroke-width="3.4"/>
<line x1="3204.7" y1="2924.6" x2="3223.7" y2="2924.6" stroke="#262626" stroke-width="3.4"/>
<line x1="3204.7" y1="2892.3" x2="3223.7" y2="2892.3" stroke="#262626" stroke-width="3.4"/>
<line x1="3204.7" y1="2864.3" x2="3223.7" y2="2864.3" stroke="#262626" stroke-width="3.4"/>
<line x1="3204.7" y1="2839.6" x2="3223.7" y2="2839.6" stroke="#262626" stroke-width="3.4"/>
<line x1="3196.7" y1="2817.5" x2="3223.7" y2="2817.5" stroke="#262626" stroke-width="4.4"/>
<line x1="3204.7" y1="2672.3" x2="3223.7" y2="2672.3" stroke="#262626" stroke-width="3.4"/>
<line x1="3204.7" y1="2587.3" x2="3223.7" y2="2587.3" stroke="#262626" stroke-width="3.4"/>
<line x1="3204.7" y1="2527" x2="3223.7" y2="2527" stroke="#262626" stroke-width="3.4"/>
<line x1="3204.7" y1="2480.3" x2="3223.7" y2="2480.3" stroke="#262626" stroke-width="3.4"/>
<line x1="3204.7" y1="2442.1" x2="3223.7" y2="2442.1" stroke="#262626" stroke-width="3.4"/>
<line x1="3204.7" y1="2409.8" x2="3223.7" y2="2409.8" stroke="#262626" stroke-width="3.4"/>
<line x1="3204.7" y1="2381.8" x2="3223.7" y2="2381.8" stroke="#262626" stroke-width="3.4"/>
<line x1="3204.7" y1="2357.1" x2="3223.7" y2="2357.1" stroke="#262626" stroke-width="3.4"/>
<line x1="3196.7" y1="2335" x2="3223.7" y2="2335" stroke="#262626" stroke-width="4.4"/>
<line x1="3204.7" y1="2189.8" x2="3223.7" y2="2189.8" stroke="#262626" stroke-width="3.4"/>
<line x1="3204.7" y1="2104.8" x2="3223.7" y2="2104.8" stroke="#262626" stroke-width="3.4"/>
<path d="M1127.5,870.7 C1517.4,608.6 2047.6,663.7 2496.6,643.9" fill="none" stroke="#000" stroke-width="3.4"/>
<polyline points="2471.1,658.7 2496.6,643.9 2469.9,631.4" fill="none" stroke="#000" stroke-width="3.4" stroke-linecap="round" stroke-linejoin="miter"/>
<path d="M1169.5,1586.5 C1332.0,1650.3 1461.6,1660.8 1626.2,1600.6" fill="none" stroke="#000" stroke-width="3.4"/>
<polyline points="1606.3,1622.4 1626.2,1600.6 1596.9,1596.8" fill="none" stroke="#000" stroke-width="3.4" stroke-linecap="round" stroke-linejoin="miter"/>
<path d="M747.0,2984.9 C1268.6,2717.6 1908.0,2783.1 2477.8,2760.5" fill="none" stroke="#000" stroke-width="3.4"/>
<polyline points="2452.2,2775.1 2477.8,2760.5 2451.1,2747.9" fill="none" stroke="#000" stroke-width="3.4" stroke-linecap="round" stroke-linejoin="miter"/>
<path d="M741.1,3637.1 C904.3,3703.0 1032.5,3712.5 1197.5,3650.9" fill="none" stroke="#000" stroke-width="3.4"/>
<polyline points="1177.8,3672.8 1197.5,3650.9 1168.2,3647.3" fill="none" stroke="#000" stroke-width="3.4" stroke-linecap="round" stroke-linejoin="miter"/>
<line x1="853.2" y1="1874.8" x2="853.2" y2="1902.3" stroke="#262626" stroke-width="5"/>
<text transform="translate(805.99,1951.60) scale(1.0277,1)" font-size="54.62" fill="#262626">250</text>
<line x1="972.4" y1="1874.8" x2="972.4" y2="1902.3" stroke="#262626" stroke-width="5"/>
<text transform="translate(926.09,1951.60) scale(1.0098,1)" font-size="54.62" fill="#262626">500</text>
<line x1="458.6" y1="3782.6" x2="458.6" y2="3810.1" stroke="#262626" stroke-width="5"/>
<text transform="translate(410.67,3859.40) scale(1.0347,1)" font-size="54.62" fill="#262626">250</text>
<line x1="577.8" y1="3782.6" x2="577.8" y2="3810.1" stroke="#262626" stroke-width="5"/>
<text transform="translate(530.79,3859.40) scale(1.0109,1)" font-size="54.62" fill="#262626">500</text>
<text transform="translate(613.46,1895.10) scale(1.0256,1)" font-size="53.76" fill="#262626">10</text>
<text transform="translate(676.25,1875.40) scale(1.0001,1)" font-size="35.84" fill="#262626">0</text>
<text transform="translate(219.26,3802.90) scale(1.0256,1)" font-size="53.76" fill="#262626">10</text>
<text transform="translate(282.05,3783.20) scale(1.0001,1)" font-size="35.84" fill="#262626">0</text>
<text transform="translate(613.46,1412.11) scale(1.0256,1)" font-size="53.76" fill="#262626">10</text>
<text transform="translate(676.35,1392.41) scale(1.0001,1)" font-size="36.36" fill="#262626">1</text>
<text transform="translate(219.26,3320.37) scale(1.0256,1)" font-size="53.76" fill="#262626">10</text>
<text transform="translate(282.15,3300.67) scale(1.0001,1)" font-size="36.36" fill="#262626">1</text>
<text transform="translate(613.46,929.13) scale(1.0256,1)" font-size="53.76" fill="#262626">10</text>
<text transform="translate(676.70,909.43) scale(1.0001,1)" font-size="35.84" fill="#262626">2</text>
<text transform="translate(219.26,2837.85) scale(1.0256,1)" font-size="53.76" fill="#262626">10</text>
<text transform="translate(282.50,2818.15) scale(1.0001,1)" font-size="35.84" fill="#262626">2</text>
<text transform="translate(613.46,446.14) scale(1.0256,1)" font-size="53.76" fill="#262626">10</text>
<text transform="translate(676.43,426.44) scale(1.0001,1)" font-size="35.84" fill="#262626">3</text>
<text transform="translate(219.26,2355.32) scale(1.0256,1)" font-size="53.76" fill="#262626">10</text>
<text transform="translate(282.23,2335.62) scale(1.0001,1)" font-size="35.84" fill="#262626">3</text>
<text transform="translate(586.10,1482.62) rotate(-90) scale(1.0520,1)" font-size="56.69" fill="#262626">Relative Fluoresence Units (RFU)</text>
<text transform="translate(191.90,3390.82) rotate(-90) scale(1.0571,1)" font-size="56.41" fill="#262626">Relative Fluoresence Units (RFU)</text>
<text transform="translate(1690.98,329.55) scale(0.8408,1)" font-size="61.52" fill="#000" stroke="#fff" stroke-width="1.30" stroke-linejoin="round">Round 1</text>
<text transform="translate(2065.23,329.55) scale(0.8909,1)" font-size="61.52" fill="#000" stroke="#fff" stroke-width="1.30" stroke-linejoin="round">Round 2</text>
<text transform="translate(2567.18,329.55) scale(0.8417,1)" font-size="61.52" fill="#000" stroke="#EBF3EB" stroke-width="1.30" stroke-linejoin="round">Round 1</text>
<text transform="translate(2940.43,329.55) scale(0.8900,1)" font-size="61.52" fill="#000" stroke="#fff" stroke-width="1.30" stroke-linejoin="round">Round 2</text>
<text transform="translate(1298.18,2230.65) scale(0.8422,1)" font-size="61.52" fill="#000" stroke="#fff" stroke-width="1.30" stroke-linejoin="round">Round 1</text>
<text transform="translate(1672.03,2230.65) scale(0.8900,1)" font-size="61.52" fill="#000" stroke="#fff" stroke-width="1.30" stroke-linejoin="round">Round 2</text>
<text transform="translate(2040.95,2230.65) scale(0.8873,1)" font-size="61.52" fill="#000" stroke="#fff" stroke-width="1.30" stroke-linejoin="round">Round 3</text>
<text transform="translate(2552.68,2230.65) scale(0.8413,1)" font-size="61.52" fill="#000" stroke="#EBF3EB" stroke-width="1.30" stroke-linejoin="round">Round 1</text>
<text transform="translate(2924.53,2230.65) scale(0.8900,1)" font-size="61.52" fill="#000" stroke="#EBF3EB" stroke-width="1.30" stroke-linejoin="round">Round 2</text>
<text transform="translate(3306.04,2230.65) scale(0.8882,1)" font-size="61.52" fill="#000" stroke="#fff" stroke-width="1.30" stroke-linejoin="round">Round 3</text>
<text transform="translate(30.09,174.60) scale(0.9542,1)" font-size="86.69" fill="#000">A</text>
<text transform="translate(126.80,161.70) scale(0.9431,1)" font-size="84.83" fill="#000">Signal</text>
<text transform="translate(126.97,262.10) scale(0.9708,1)" font-size="86.21" fill="#000">(10μM phenol)</text>
<text transform="translate(38.41,2047.00) scale(0.9672,1)" font-size="86.40" fill="#000">B</text>
<text transform="translate(144.78,2047.00) scale(0.9577,1)" font-size="85.10" fill="#000">Background</text>
<rect x="738.20" y="92.10" width="42.60" height="38.50" fill="#CCE0FF" stroke="#0A5CFF" stroke-width="4.2"/>
<text transform="translate(837.58,134.35) scale(0.8745,1)" font-size="61.24" fill="#000" stroke="#fff" stroke-width="1.30" stroke-linejoin="round">WT</text>
<rect x="1132.10" y="95.10" width="43.70" height="38.50" fill="#FFD7CD" stroke="#FF3300" stroke-width="4.2"/>
<text transform="translate(1246.57,134.35) scale(0.8868,1)" font-size="61.24" fill="#000" stroke="#fff" stroke-width="1.30" stroke-linejoin="round">ML</text>
<rect x="1640.10" y="92.60" width="42.60" height="38.00" fill="#F7F0CF" stroke="#D8BA06" stroke-width="4.2"/>
<text transform="translate(1744.09,128.85) scale(0.8779,1)" font-size="61.52" fill="#000" stroke="#fff" stroke-width="1.30" stroke-linejoin="round">Low Sorted Samples</text>
<rect x="2516.00" y="92.60" width="42.90" height="38.00" fill="#D0E3CD" stroke="#117000" stroke-width="4.2"/>
<text transform="translate(2608.46,128.85) scale(0.8842,1)" font-size="61.52" fill="#000" stroke="#fff" stroke-width="1.30" stroke-linejoin="round">High Sorted Samples</text>
<line x1="3242.2" y1="118.9" x2="3385.5" y2="118.9" stroke="#000" stroke-width="6.2" stroke-dasharray="47.7 18.1"/>
<text transform="translate(3416.27,139.55) scale(0.8491,1)" font-size="60.79" fill="#000" stroke="#fff" stroke-width="1.30" stroke-linejoin="round">Gates</text>
</svg></body></html>
